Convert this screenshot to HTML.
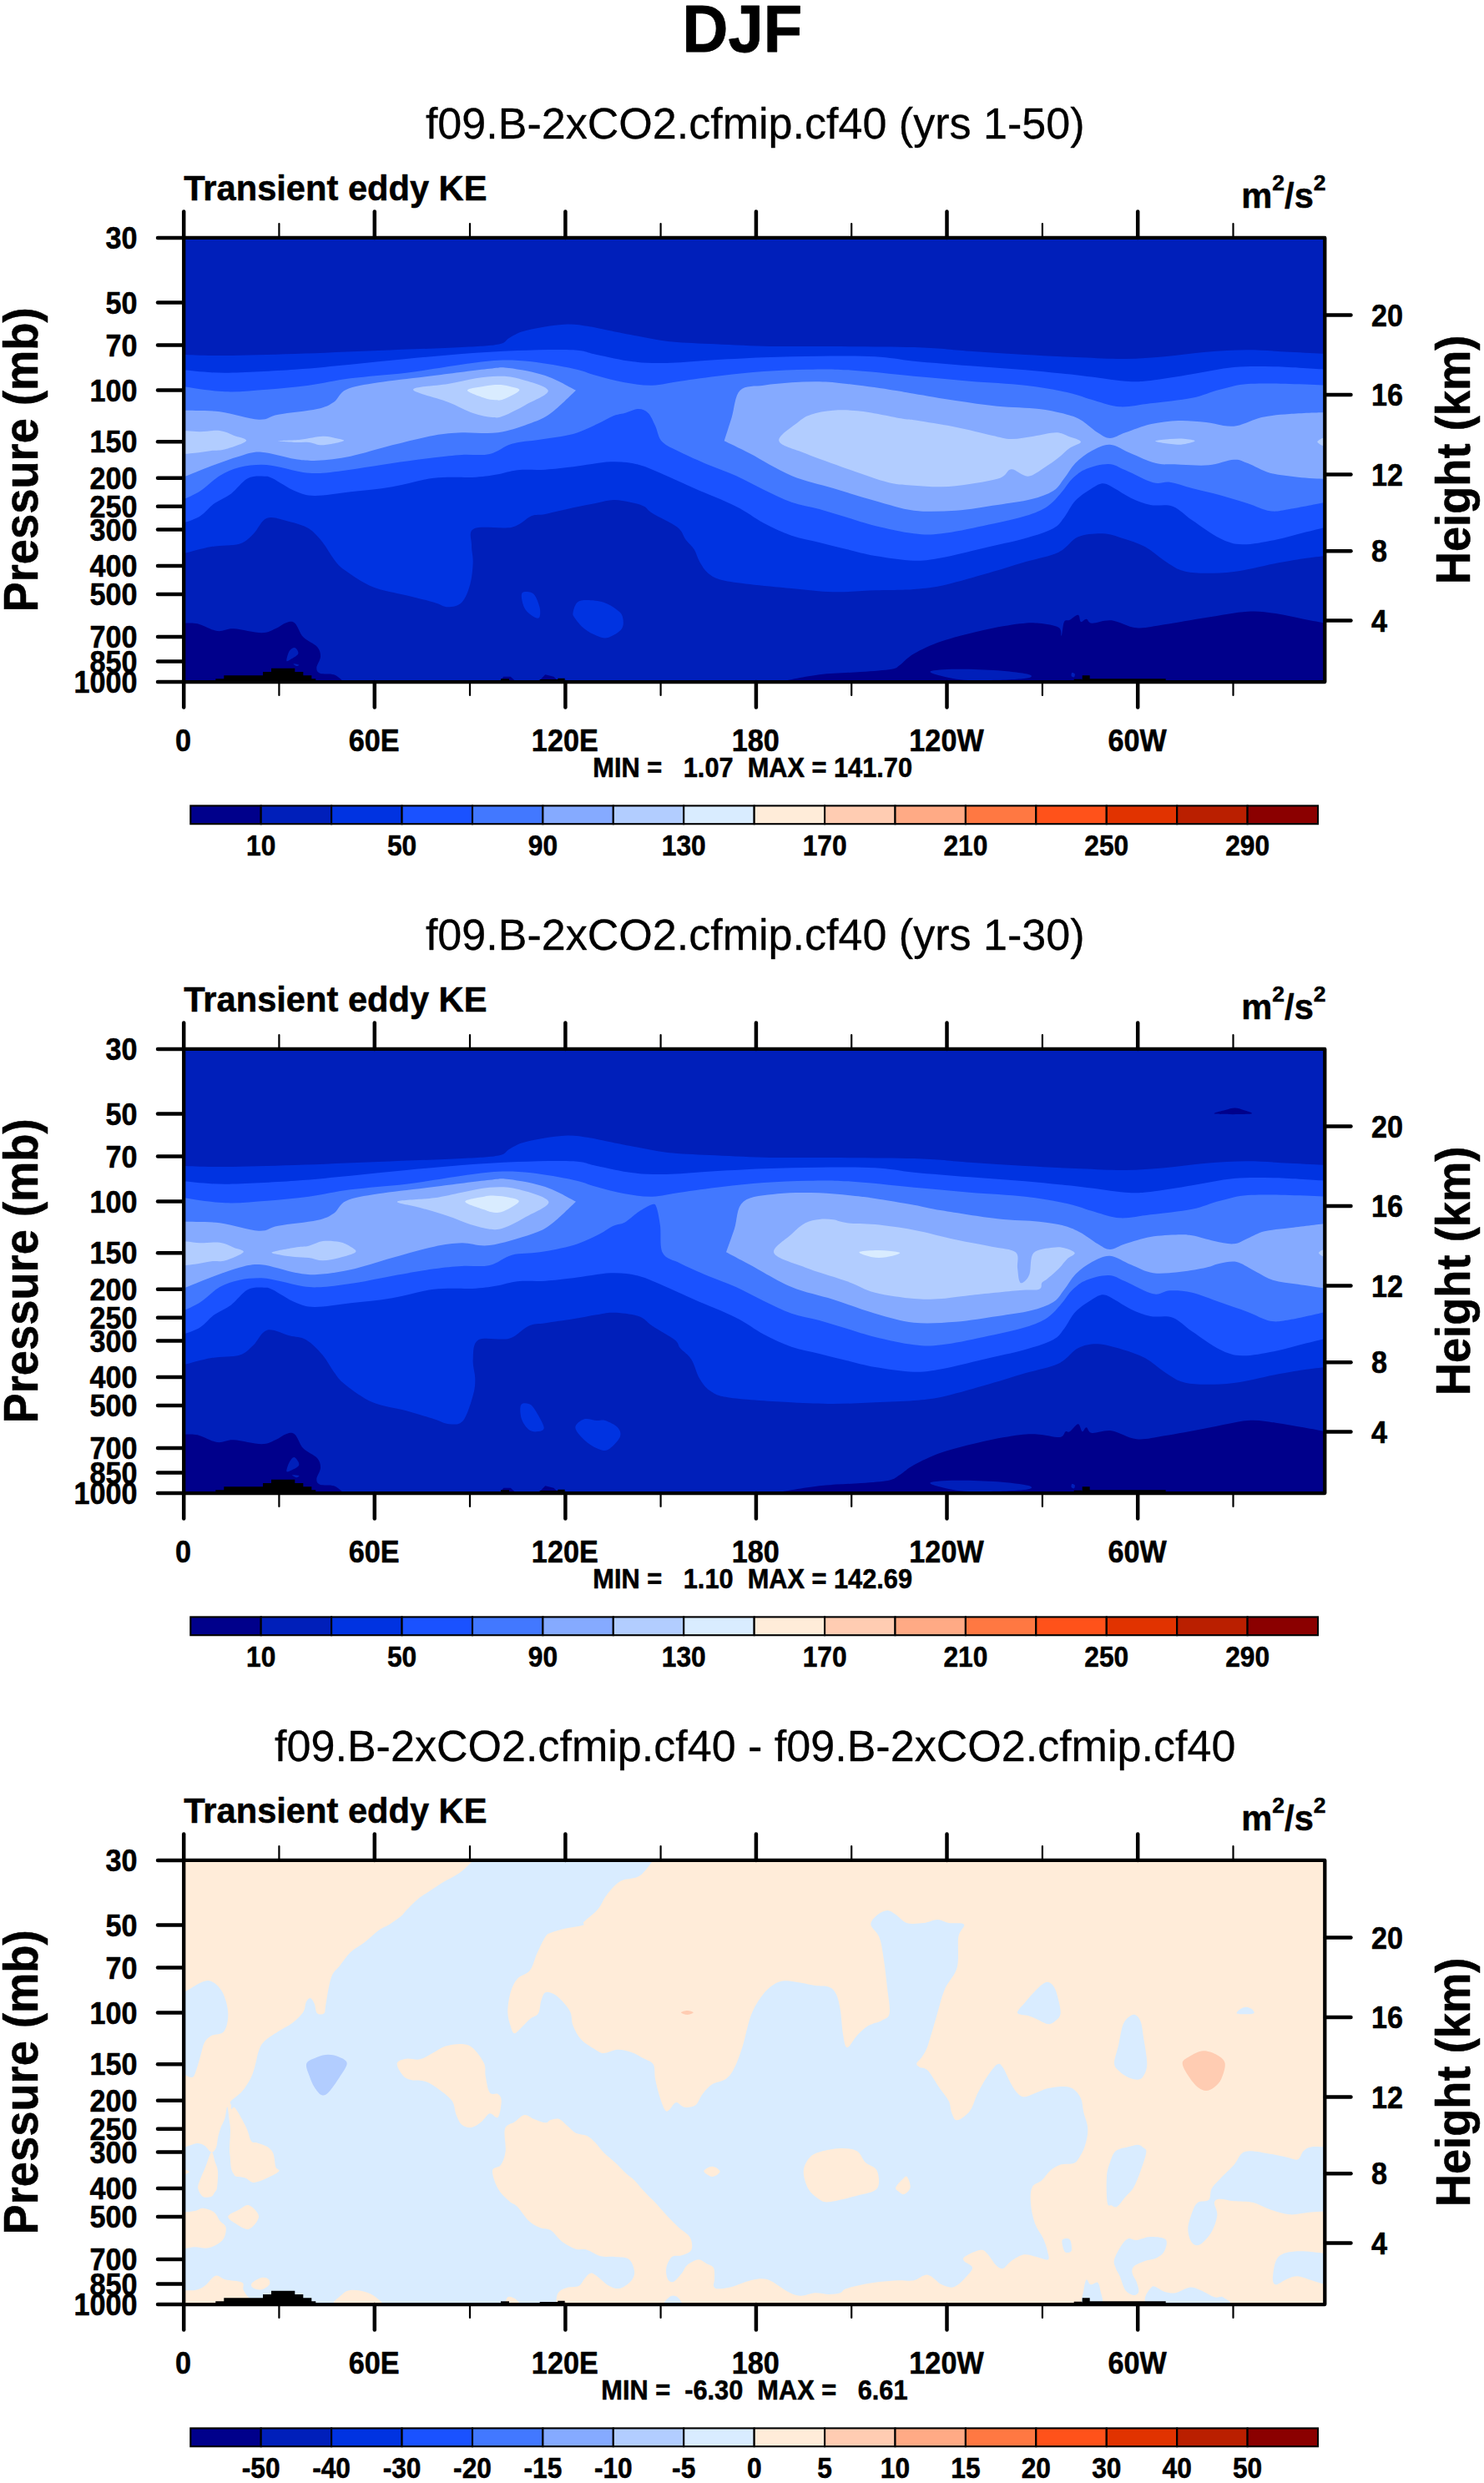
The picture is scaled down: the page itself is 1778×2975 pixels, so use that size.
<!DOCTYPE html><html><head><meta charset="utf-8"><title>DJF</title><style>
html,body{margin:0;padding:0;background:#fff}
svg{display:block}
text{font-family:"Liberation Sans",sans-serif;fill:#000;stroke:#000;stroke-width:0.5px;stroke-linejoin:round}
.tl{font-size:34.2px;font-weight:bold}
.cl{font-size:31.7px;font-weight:bold}
.mm{font-size:30.75px;font-weight:bold;white-space:pre}
.st{font-size:52.05px;stroke-width:0.3px}
.lt{font-size:41.65px;font-weight:bold}
.at{font-size:54.3px;font-weight:bold}
.tt{font-size:76px;font-weight:bold;stroke-width:0.8px}
.tk{stroke:#000;stroke-width:4.5;stroke-linecap:round}
.tm{stroke:#000;stroke-width:2.2;stroke-linecap:round}
</style></head><body>
<svg width="1778" height="2975" viewBox="0 0 1778 2975">
<defs>
<clipPath id="clip0"><rect x="220.2" y="284.9" width="1367.1" height="532.2"/></clipPath>
<clipPath id="clip1"><rect x="220.2" y="1256.9" width="1367.1" height="532.2"/></clipPath>
<clipPath id="clip2"><rect x="220.2" y="2228.9" width="1367.1" height="532.2"/></clipPath>
</defs>
<rect width="1778" height="2975" fill="#fff"/>
<text transform="translate(889.3 61.7) scale(1 1.045)" class="tt" text-anchor="middle">DJF</text>
<g>
<g clip-path="url(#clip0)">
<rect x="218" y="283" width="1372" height="536" fill="#001FBA"/>
<path d="M220 425C228.3 425.2 247.8 426.2 270 426C292.2 425.8 322.8 425 353.3 424C383.9 423 420 421.3 453.3 420C486.7 418.7 529.3 417.2 553.3 416C577.4 414.8 588.1 414.3 597.5 412.5C606.9 410.7 605.4 407.5 610 405C614.6 402.5 618.3 399.7 625 397.5C631.7 395.3 640.8 393.5 650 392C659.2 390.5 670.8 388.7 680 388.5C689.2 388.3 697.5 389.9 705 391C712.5 392.1 715.8 393.2 725 395C734.2 396.8 747.5 399.7 760 402C772.5 404.3 785 407.3 800 409C815 410.7 830.8 411.1 850 412C869.2 412.9 893.1 414.2 915 414.7C936.9 415.2 951.7 414.8 981.7 415C1011.7 415.2 1065 415.1 1095 416C1125 416.9 1139.4 419.2 1161.7 420.7C1183.9 422.2 1206.1 423.7 1228.3 425C1250.6 426.3 1275 427.5 1295 428.3C1315 429.2 1331.7 430.2 1348.3 430C1365 429.8 1378.9 428.7 1395 427.3C1411.1 425.9 1428.3 423 1445 421.7C1461.7 420.3 1478.3 419.3 1495 419.3C1511.7 419.3 1529.4 420.9 1545 421.7C1560.6 422.4 1581.1 423.6 1588.3 424L1588.3 666C1583.9 666.6 1571.7 667.8 1561.7 669.3C1551.7 670.8 1542.2 672.4 1528.3 675C1514.4 677.6 1493.3 683.1 1478.3 685C1463.3 686.9 1448.9 686.9 1438.3 686.7C1427.8 686.4 1422.2 685.8 1415 683.3C1407.8 680.8 1402.2 676.4 1395 671.7C1387.8 666.9 1380 659.4 1371.7 655C1363.3 650.6 1353.3 647.6 1345 645C1336.7 642.4 1330.6 639.6 1321.7 639.3C1312.8 639.1 1300.6 639.6 1291.7 643.3C1282.8 647.1 1278.9 656.7 1268.3 661.7C1257.8 666.7 1243.3 668.9 1228.3 673.3C1213.3 677.8 1195 683.6 1178.3 688.3C1161.7 693.1 1142.2 698.7 1128.3 701.7C1114.4 704.6 1102.8 705.2 1095 706C1087.2 706.8 1089.4 706.4 1081.7 706.7C1073.9 706.9 1062.2 706.9 1048.3 707.3C1034.4 707.8 1015 709.7 998.3 709.3C981.7 708.9 965 706.6 948.3 705C931.7 703.4 912.2 701.7 898.3 700C884.4 698.3 873.3 697.2 865 695C856.7 692.8 852.8 690.3 848.3 686.7C843.9 683.1 841.1 678.1 838.3 673.3C835.6 668.6 834.4 662.8 831.7 658.3C828.9 653.9 825 651.1 821.7 646.7C818.3 642.2 818.3 636.9 811.7 631.7C805 626.4 788.3 619.2 781.7 615C775 610.8 776.1 608.9 771.7 606.7C767.2 604.4 761.1 602.9 755 601.7C748.9 600.4 741.7 598.8 735 599C728.3 599.2 722.7 601.1 714.7 602.7C706.6 604.2 696.9 606.1 686.7 608.3C676.4 610.6 661.7 614.3 653.3 616C645 617.7 643.3 615.7 636.7 618.3C630 620.9 624.7 629.2 613.3 631.7C601.9 634.2 576.4 629.7 568.3 633.3C560.3 636.9 565.3 646.7 565 653.3C564.7 660 566.9 665.6 566.7 673.3C566.4 681.1 565.6 691.9 563.3 700C561.1 708.1 557.8 717.1 553.3 721.7C548.9 726.2 542.2 727.3 536.7 727.3C531.1 727.3 528.3 724 520 721.7C511.7 719.3 498.9 716.4 486.7 713.3C474.4 710.3 458.9 708.3 446.7 703.3C434.4 698.3 421.1 688.9 413.3 683.3C405.6 677.8 404.4 675.6 400 670C395.6 664.4 391.7 656.1 386.7 650C381.7 643.9 376.7 637.5 370 633.3C363.3 629.2 355 627.1 346.7 625C338.3 622.9 327.2 618.2 320 620.7C312.8 623.2 308.9 634.8 303.3 640C297.8 645.2 295 649.2 286.7 651.7C278.3 654.2 264.4 653.1 253.3 655C242.2 656.9 225.6 661.9 220 663.3Z" fill="#0033E1"/>
<path d="M220 443.3C228.3 443.9 247.8 446.8 270 446.7C292.2 446.6 328.3 444.3 353.3 442.7C378.3 441 397.8 438.8 420 436.7C442.2 434.6 464.4 432.1 486.7 430C508.9 427.9 531.1 425.7 553.3 424C575.6 422.3 597.8 420.8 620 420C642.2 419.2 670.8 418.5 686.7 419.3C702.5 420.2 703.1 422.7 715 425C726.9 427.3 744.4 431.7 758.3 433.3C772.2 435 783.3 435.3 798.3 435C813.3 434.7 828.9 432.8 848.3 431.7C867.8 430.6 892.8 429.2 915 428.3C937.2 427.5 959.4 426.8 981.7 426.7C1003.9 426.5 1029.4 426.3 1048.3 427.3C1067.2 428.3 1076.1 430.8 1095 432.7C1113.9 434.5 1139.4 436.6 1161.7 438.3C1183.9 440.1 1206.1 441.4 1228.3 443.3C1250.6 445.3 1275 447.8 1295 450C1315 452.2 1334.4 455.7 1348.3 456.7C1362.2 457.7 1365 457.4 1378.3 456C1391.7 454.6 1411.7 451 1428.3 448.3C1445 445.7 1461.7 441.5 1478.3 440C1495 438.5 1510 438.9 1528.3 439.3C1546.7 439.8 1578.3 442.1 1588.3 442.7L1588.3 631.7C1583.9 632.8 1571.7 635.8 1561.7 638.3C1551.7 640.8 1540.6 644.3 1528.3 646.7C1516.1 649 1499.4 652.6 1488.3 652.3C1477.2 652.1 1471.7 649.8 1461.7 645C1451.7 640.2 1437.8 629.7 1428.3 623.3C1418.9 616.9 1413.3 609.7 1405 606.7C1396.7 603.6 1386.7 606.7 1378.3 605C1370 603.3 1362.2 600 1355 596.7C1347.8 593.3 1340.6 587.9 1335 585C1329.4 582.1 1326.1 579.3 1321.7 579.3C1317.2 579.3 1313.9 581.6 1308.3 585C1302.8 588.4 1293.9 594.2 1288.3 600C1282.8 605.8 1279.4 614.4 1275 620C1270.6 625.6 1269.4 629.2 1261.7 633.3C1253.9 637.5 1242.2 641.1 1228.3 645C1214.4 648.9 1195 652.8 1178.3 656.7C1161.7 660.6 1142.2 665.8 1128.3 668.3C1114.4 670.8 1108.3 672.1 1095 671.7C1081.7 671.3 1061.7 668.2 1048.3 666C1035 663.8 1026.1 661 1015 658.3C1003.9 655.7 992.8 652.8 981.7 650C970.6 647.2 959.4 645.6 948.3 641.7C937.2 637.8 926.1 632.5 915 626.7C903.9 620.8 895.6 613.6 881.7 606.7C867.8 599.7 845.6 591.1 831.7 585C817.8 578.9 809.4 574.7 798.3 570C787.2 565.3 776.1 559.4 765 556.7C753.9 553.9 744.7 552.9 731.7 553.3C718.6 553.8 699.7 557.8 686.7 559.3C673.6 560.9 664.4 562 653.3 562.7C642.2 563.3 629.4 562.4 620 563.3C610.6 564.3 605 566.9 596.7 568.3C588.3 569.7 582.8 570.9 570 571.7C557.2 572.4 536.7 570.7 520 572.7C503.3 574.6 486.7 580.6 470 583.3C453.3 586.1 435.6 587.6 420 589.3C404.4 591.1 387.8 594.2 376.7 594C365.6 593.8 361.7 591.8 353.3 588.3C345 584.9 332.8 576.3 326.7 573.3C320.6 570.4 321.7 570.7 316.7 570.7C311.7 570.7 303.3 569.8 296.7 573.3C290 576.8 283.3 586.7 276.7 591.7C270 596.7 262.8 598.9 256.7 603.3C250.6 607.8 246.1 614.4 240 618.3C233.9 622.2 223.3 625.3 220 626.7Z" fill="#1A52FF"/>
<path d="M220 463.3C228.3 464.3 253.3 468.8 270 469.3C286.7 469.9 303.3 467.9 320 466.7C336.7 465.4 353.3 463.9 370 461.7C386.7 459.4 400.6 455.8 420 453.3C439.4 450.8 464.4 449.4 486.7 446.7C508.9 443.9 535 439.2 553.3 436.7C571.7 434.2 582.8 432.2 596.7 431.7C610.6 431.1 621.7 431.7 636.7 433.3C651.7 435 673.7 438.9 686.7 441.7C699.7 444.4 704.4 447.2 714.7 450C724.9 452.8 737.2 456.4 748.3 458.3C759.5 460.3 770.6 461.9 781.7 461.7C792.8 461.4 801.1 458.6 815 456.7C828.9 454.7 848.3 451.9 865 450C881.7 448.1 897.8 446.2 915 445C932.2 443.8 951.7 442.9 968.3 442.7C985 442.4 993.9 442 1015 443.3C1036.1 444.7 1070.6 448.4 1095 450.7C1119.4 452.9 1139.4 454.8 1161.7 456.7C1183.9 458.5 1208.9 459.4 1228.3 461.7C1247.8 463.9 1264.4 466.9 1278.3 470C1292.2 473.1 1301.1 477.1 1311.7 480C1322.2 482.9 1330.6 486.8 1341.7 487.3C1352.8 487.9 1363.9 485.1 1378.3 483.3C1392.8 481.6 1414.4 479.4 1428.3 476.7C1442.2 473.9 1450.6 469.4 1461.7 466.7C1472.8 463.9 1481.1 461.1 1495 460C1508.9 458.9 1529.4 459.7 1545 460C1560.6 460.3 1581.1 461.4 1588.3 461.7L1588.3 601.7C1581.1 603.1 1556.1 608.2 1545 610C1533.9 611.8 1530 613.4 1521.7 612.3C1513.3 611.2 1505 606.5 1495 603.3C1485 600.2 1472.8 596.4 1461.7 593.3C1450.6 590.3 1438.3 587.6 1428.3 585C1418.3 582.4 1409.4 578.8 1401.7 577.7C1393.9 576.6 1390.6 580.7 1381.7 578.3C1372.8 575.9 1357.2 567.1 1348.3 563.3C1339.4 559.6 1336.1 556.3 1328.3 556C1320.6 555.7 1308.9 558.8 1301.7 561.7C1294.4 564.6 1290 568.6 1285 573.3C1280 578.1 1276.7 584.4 1271.7 590C1266.7 595.6 1262.2 601.9 1255 606.7C1247.8 611.4 1241.1 614.4 1228.3 618.3C1215.6 622.2 1195 626.5 1178.3 630C1161.7 633.5 1142.2 637.8 1128.3 639.3C1114.4 640.9 1108.3 640.9 1095 639.3C1081.7 637.8 1061.7 633.2 1048.3 630C1035 626.8 1026.1 623.3 1015 620C1003.9 616.7 992.8 613.1 981.7 610C970.6 606.9 959.4 605.6 948.3 601.7C937.2 597.8 926.1 591.9 915 586.7C903.9 581.4 892.8 575 881.7 570C870.6 565 859.4 561.4 848.3 556.7C837.2 551.9 824.2 546.2 815 541.7C805.8 537.1 798.3 534.6 793.3 529.3C788.3 524.1 787.8 515.7 785 510C782.2 504.3 780 498.3 776.7 495C773.3 491.7 769.7 490 765 490C760.3 490 753.3 493.6 748.3 495C743.3 496.4 740.6 496.1 735 498.3C729.4 500.6 723.1 504.7 715 508.3C706.9 511.9 698.1 516.9 686.7 520C675.3 523.1 658.9 524.7 646.7 526.7C634.4 528.6 623.3 528.8 613.3 531.7C603.3 534.6 596.7 541.8 586.7 544C576.7 546.2 564.4 544.3 553.3 545C542.2 545.7 533.9 546.7 520 548.3C506.1 550 485.6 552.8 470 555C454.4 557.2 440.6 559.7 426.7 561.7C412.8 563.6 397.2 565.9 386.7 566.7C376.1 567.4 371.7 567.1 363.3 566C355 564.9 345 561.6 336.7 560C328.3 558.4 321.7 556.7 313.3 556.7C305 556.7 295 557.8 286.7 560C278.3 562.2 271.1 565.3 263.3 570C255.6 574.7 247.2 583.6 240 588.3C232.8 593.1 223.3 596.7 220 598.3Z" fill="#4278FF"/>
<path d="M220 491.7C227.2 491.9 248.3 491.5 263.3 493.3C278.3 495.2 298.3 502.1 310 502.7C321.7 503.2 321.7 498.8 333.3 496.7C345 494.6 368.9 492.5 380 490C391.1 487.5 394.2 485.6 400 481.7C405.8 477.8 406.1 470.6 415 466.7C423.9 462.8 435.8 461.1 453.3 458.3C470.8 455.6 497.8 452.8 520 450C542.2 447.2 571.7 443.2 586.7 441.7C601.7 440.2 598.9 439.6 610 441C621.1 442.4 640 445.6 653.3 450C666.7 454.4 683.9 464.7 690 467.7L690 467.7C685 472.2 668.9 488.5 660 495C651.1 501.5 647.2 502.8 636.7 506.7C626.1 510.6 610.6 516.4 596.7 518.3C582.8 520.3 566.1 517.8 553.3 518.3C540.6 518.9 533.9 519.2 520 521.7C506.1 524.2 486.7 529.2 470 533.3C453.3 537.5 435 543.6 420 546.7C405 549.7 391.1 551.1 380 551.7C368.9 552.2 364.4 551.7 353.3 550C342.2 548.3 324.4 542.2 313.3 541.7C302.2 541.1 296.7 543.9 286.7 546.7C276.7 549.4 264.4 554.2 253.3 558.3C242.2 562.5 225.6 569.4 220 571.7Z" fill="#85AAFF"/>
<path d="M867.7 528.3C869.2 523.6 873.5 510.1 876.7 500C879.8 489.9 880.3 474.1 886.7 467.7C893.1 461.3 904.7 463.2 915 461.7C925.3 460.1 937.2 459.1 948.3 458.3C959.4 457.6 970.6 457.1 981.7 457.3C992.8 457.6 1001.1 458.4 1015 460C1028.9 461.6 1051.7 464.7 1065 466.7C1078.3 468.6 1081.7 469.4 1095 471.7C1108.3 473.9 1128.3 477.5 1145 480C1161.7 482.5 1178.3 485 1195 486.7C1211.7 488.3 1231.1 488.3 1245 490C1258.9 491.7 1270 494.4 1278.3 496.7C1286.7 498.9 1288.9 499.7 1295 503.3C1301.1 506.9 1309.2 514.7 1315 518.3C1320.8 521.9 1324.4 525 1330 525C1335.6 525 1340.3 521.1 1348.3 518.3C1356.4 515.6 1367.8 510.7 1378.3 508.3C1388.9 505.9 1400.6 504.4 1411.7 504C1422.8 503.6 1433.9 504.9 1445 506C1456.1 507.1 1467.2 511.7 1478.3 510.7C1489.4 509.7 1500.6 502.4 1511.7 500C1522.8 497.6 1532.2 497 1545 496C1557.8 495 1581.1 494.3 1588.3 494L1588.3 574C1582.8 573.6 1566.1 572.9 1555 571.7C1543.9 570.4 1531.7 569.4 1521.7 566.7C1511.7 563.9 1502.2 557.7 1495 555C1487.8 552.3 1486.1 550.3 1478.3 550.7C1470.6 551.1 1458.9 556.3 1448.3 557.3C1437.8 558.3 1425.6 557.1 1415 556.7C1404.4 556.3 1395 557.2 1385 555C1375 552.8 1364.2 547.1 1355 543.3C1345.8 539.6 1337.8 533.2 1330 532.7C1322.2 532.1 1315.3 536.3 1308.3 540C1301.4 543.7 1293.9 549.4 1288.3 555C1282.8 560.6 1279.4 567.8 1275 573.3C1270.6 578.9 1268.3 584.2 1261.7 588.3C1255 592.5 1246.1 595.6 1235 598.3C1223.9 601.1 1210 602.8 1195 605C1180 607.2 1161.7 610.6 1145 611.7C1128.3 612.8 1111.1 613.6 1095 611.7C1078.9 609.7 1064.4 604.4 1048.3 600C1032.2 595.6 1015 590 998.3 585C981.7 580 965 576.9 948.3 570C931.7 563.1 911.8 550.3 898.3 543.3C884.9 536.4 872.8 530.8 867.7 528.3Z" fill="#85AAFF"/>
<path d="M216.7 518.3C220.6 514.3 232.2 517.7 240 517.3C247.8 516.9 256.7 515.3 263.3 516C270 516.7 274.7 519.6 280 521.7C285.3 523.7 296.7 525.6 295 528.3C293.3 531.1 276.9 536.4 270 538.3C263.1 540.3 259.4 539.3 253.3 540C247.2 540.7 239.4 542.4 233.3 542.7C227.2 542.9 219.4 545.7 216.7 541.7C213.9 537.6 212.8 522.4 216.7 518.3Z" fill="#B2CDFF"/>
<path d="M333.3 528.3C334.4 527.8 351.1 527.6 360 526.7C368.9 525.7 379.7 522.9 386.7 522.7C393.6 522.4 397.5 524.1 401.7 525C405.8 525.9 414.2 526.9 411.7 528.3C409.2 529.7 393.6 533.1 386.7 533.3C379.7 533.6 375.6 530.6 370 530C364.4 529.4 359.4 530.3 353.3 530C347.2 529.7 332.2 528.9 333.3 528.3Z" fill="#B2CDFF"/>
<path d="M495 466.7C495 463.1 524.2 462.2 536.7 460C549.2 457.8 560 454.9 570 453.3C580 451.8 588.3 450.7 596.7 450.7C605 450.7 610 450.5 620 453.3C630 456.2 655 462.4 656.7 467.7C658.3 472.9 638.9 479.9 630 485C621.1 490.1 610 495.8 603.3 498.3C596.7 500.8 596.1 500.6 590 500C583.9 499.4 575.6 498.1 566.7 495C557.8 491.9 548.6 486.4 536.7 481.7C524.7 476.9 495 470.3 495 466.7Z" fill="#B2CDFF"/>
<path d="M933.3 528.3C931.7 522.2 948.6 511.9 955 506.7C961.4 501.4 964.4 499.2 971.7 496.7C978.9 494.2 988.3 492.3 998.3 491.7C1008.3 491 1017.8 491 1031.7 492.7C1045.6 494.3 1071.1 499.9 1081.7 501.7C1092.2 503.4 1084.4 501.7 1095 503.3C1105.6 505 1129.4 508.6 1145 511.7C1160.6 514.7 1177.2 519.3 1188.3 521.7C1199.4 524.1 1203.3 525.8 1211.7 526C1220 526.2 1229.4 523.9 1238.3 522.7C1247.2 521.4 1258.1 518.3 1265 518.3C1271.9 518.3 1275 520.8 1280 522.7C1285 524.5 1294.7 527 1295 529.3C1295.3 531.7 1286.1 533.5 1281.7 536.7C1277.2 539.8 1273.3 544.4 1268.3 548.3C1263.3 552.2 1257.8 556.3 1251.7 560C1245.6 563.7 1238.3 570.3 1231.7 570.7C1225 571.1 1217.2 562 1211.7 562.3C1206.1 562.7 1206.7 569.7 1198.3 572.7C1190 575.6 1173.3 578.2 1161.7 580C1150 581.8 1139.4 583.1 1128.3 583.3C1117.2 583.6 1105.6 582.5 1095 581.7C1084.4 580.8 1078.3 581.7 1065 578.3C1051.7 575 1031.7 567.5 1015 561.7C998.3 555.8 978.6 548.9 965 543.3C951.4 537.8 935 534.4 933.3 528.3Z" fill="#B2CDFF"/>
<path d="M1384.3 528.3C1385.4 527.5 1396 526.4 1401.7 526C1407.3 525.6 1413.3 525.3 1418.3 525.7C1423.3 526.1 1432.2 527.2 1431.7 528.3C1431.1 529.5 1421.1 532.2 1415 532.7C1408.9 533.1 1400.1 531.7 1395 531C1389.9 530.3 1383.2 529.2 1384.3 528.3Z" fill="#B2CDFF"/>
<path d="M1588.3 524C1586.7 523.1 1578.3 527.6 1578.3 529.3C1578.3 531.1 1586.7 535.6 1588.3 534.7C1590 533.8 1590 524.9 1588.3 524Z" fill="#B2CDFF"/>
<path d="M560 467.7C560 465.3 573.9 463.8 580 462.7C586.1 461.6 591.7 461 596.7 461C601.7 461 605.7 461.6 610 462.7C614.3 463.8 623.4 465.1 622.3 467.7C621.2 470.3 608.2 476.4 603.3 478.3C598.5 480.3 597.2 479.6 593.3 479.3C589.4 479.1 585.6 478.6 580 476.7C574.4 474.7 560 470 560 467.7Z" fill="#D9ECFF"/>
<path d="M625 711.7C625.8 708.5 630.7 709.1 633.3 709.3C635.9 709.6 638.4 710.2 640.7 713.3C642.9 716.5 645.8 723.9 646.7 728.3C647.6 732.8 647.4 738.3 646 740C644.6 741.7 641.3 740.3 638.3 738.3C635.4 736.4 630.6 732.8 628.3 728.3C626.1 723.9 624.2 714.8 625 711.7Z" fill="#0033E1"/>
<path d="M686.7 733.3C687.2 730.3 688.9 724.1 691.7 721.7C694.4 719.3 698.1 719 703.3 719C708.6 719 717.5 719.8 723.3 721.7C729.2 723.5 734.6 727.2 738.3 730C742.1 732.8 744.6 734.4 745.7 738.3C746.8 742.2 747.9 749.1 745 753.3C742.1 757.6 733.3 762.6 728.3 764C723.3 765.4 719.7 763.4 715 761.7C710.3 759.9 704.4 756.9 700 753.3C695.6 749.7 690.6 743.3 688.3 740C686.1 736.7 686.1 736.4 686.7 733.3Z" fill="#0033E1"/>
<path d="M220 746.7C222.8 746.8 230 745.8 236.7 747.3C243.3 748.9 252.8 755 260 756C267.2 757 271.1 752.9 280 753.3C288.9 753.7 305 758.3 313.3 758.3C321.7 758.3 325 755.4 330 753.3C335 751.3 339.4 747.1 343.3 746C347.2 744.9 350 743.8 353.3 746.7C356.7 749.6 358.9 758.6 363.3 763.3C367.8 768.1 376.6 771.1 380 775C383.4 778.9 384.1 782.5 384 786.7C383.9 790.8 379.4 796.7 379.3 800C379.2 803.3 379.9 805.3 383.3 806.7C386.8 808.1 395.3 806.7 400 808.3C404.7 810 409.7 815.3 411.7 816.7L411.7 818 L220 818 Z" fill="#00008B"/>
<path d="M935 816.7C942.8 815.3 965.6 810.3 981.7 808.3C997.8 806.4 1017.2 806.1 1031.7 805C1046.1 803.9 1060.6 803.1 1068.3 801.7C1076.1 800.3 1073.9 799.7 1078.3 796.7C1082.8 793.6 1086.7 788.1 1095 783.3C1103.3 778.6 1114.4 773.1 1128.3 768.3C1142.2 763.6 1162.8 758.5 1178.3 755C1193.9 751.5 1210.6 748.7 1221.7 747.3C1232.8 745.9 1237.2 745.9 1245 746.7C1252.8 747.4 1263.9 749.2 1268.3 751.7C1272.8 754.2 1270.6 762.8 1271.7 761.7C1272.8 760.6 1273.3 748.2 1275 745C1276.7 741.8 1278.9 744.1 1281.7 742.7C1284.4 741.3 1289.4 736.3 1291.7 736.7C1293.9 737.1 1293.3 744.2 1295 745C1296.7 745.8 1299.4 741.4 1301.7 741.7C1303.9 741.9 1303.3 746.4 1308.3 746.7C1313.3 746.9 1322.8 742.4 1331.7 743.3C1340.6 744.3 1351.1 751.5 1361.7 752.3C1372.2 753.2 1381.1 750.4 1395 748.3C1408.9 746.3 1428.3 742.6 1445 740C1461.7 737.4 1481.1 733.5 1495 732.7C1508.9 731.8 1517.2 733.5 1528.3 735C1539.4 736.5 1551.7 739.7 1561.7 741.7C1571.7 743.6 1583.9 745.8 1588.3 746.7L1588.3 818 L935 818 Z" fill="#00008B"/>
<path d="M598.3 816.7L603.3 810.7L611.7 810.7L618.3 816.7Z" fill="#00008B"/>
<path d="M645 816.7L653.3 808.3L663.3 810.7L670 816.7Z" fill="#00008B"/>
<path d="M1115 804.3C1117.8 802.9 1131.7 801.8 1145 801.7C1158.3 801.5 1180.3 802.2 1195 803.3C1209.7 804.4 1228.3 806.7 1233.3 808.3C1238.3 810 1236.9 812.2 1225 813.3C1213.1 814.4 1177.8 815.6 1161.7 815C1145.6 814.4 1136.1 811.8 1128.3 810C1120.6 808.2 1112.2 805.7 1115 804.3Z" fill="#001FBA"/>
<path d="M343.3 791.7C343.1 790 345 782.6 346.7 780C348.3 777.4 351.6 775.4 353.3 776C355.1 776.6 358.2 781 357.3 783.3C356.5 785.7 350.7 788.6 348.3 790C346 791.4 343.6 793.3 343.3 791.7Z" fill="#001FBA"/>
<path d="M351.7 795.3C352.2 795.1 357.8 796.2 358.3 796.7C358.9 797.1 356.1 798.2 355 798C353.9 797.8 351.1 795.6 351.7 795.3Z" fill="#001FBA"/>
<path d="M1284.3 806C1285 805.6 1287.2 806.4 1287.7 807.3C1288.1 808.2 1287.7 810.9 1287 811.3C1286.3 811.8 1284.1 810.9 1283.7 810C1283.2 809.1 1283.7 806.4 1284.3 806Z" fill="#001FBA"/>
<path d="M258.3 816.7L258.3 813.3L268.3 813.3L268.3 809.3L315 809.3L315 805L325 805L325 800.7L353.3 800.7L353.3 805L363.3 805L363.3 809.3L373.3 809.3L373.3 813.3L378.3 813.3L378.3 816.7Z" fill="#000"/>
<path d="M600 816.7L600 813.3L610 813.3L610 816.7Z" fill="#000"/>
<path d="M646.7 816.7L646.7 814L668.3 814L668.3 812.7L676.7 812.7L676.7 816.7Z" fill="#000"/>
<path d="M1296.7 816.7L1296.7 809.3L1305.7 809.3L1305.7 813.3L1396.7 813.3L1396.7 816.7Z" fill="#000"/>
<path d="M1286.7 816.7L1286.7 813.7L1296.7 813.7L1296.7 816.7Z" fill="#000"/>
</g>
<rect x="220.2" y="284.9" width="1367.1" height="532.2" fill="none" stroke="#000" stroke-width="4.3" stroke-linejoin="round"/>
<line x1="189" x2="219" y1="284.9" y2="284.9" class="tk"/>
<text transform="translate(164.5 298.1) scale(1 1.1)" class="tl" text-anchor="end">30</text>
<line x1="189" x2="219" y1="362.4" y2="362.4" class="tk"/>
<text transform="translate(164.5 375.6) scale(1 1.1)" class="tl" text-anchor="end">50</text>
<line x1="189" x2="219" y1="413.5" y2="413.5" class="tk"/>
<text transform="translate(164.5 426.7) scale(1 1.1)" class="tl" text-anchor="end">70</text>
<line x1="189" x2="219" y1="467.6" y2="467.6" class="tk"/>
<text transform="translate(164.5 480.8) scale(1 1.1)" class="tl" text-anchor="end">100</text>
<line x1="189" x2="219" y1="529.2" y2="529.2" class="tk"/>
<text transform="translate(164.5 542.4) scale(1 1.1)" class="tl" text-anchor="end">150</text>
<line x1="189" x2="219" y1="572.8" y2="572.8" class="tk"/>
<text transform="translate(164.5 586) scale(1 1.1)" class="tl" text-anchor="end">200</text>
<line x1="189" x2="219" y1="606.7" y2="606.7" class="tk"/>
<text transform="translate(164.5 619.9) scale(1 1.1)" class="tl" text-anchor="end">250</text>
<line x1="189" x2="219" y1="634.4" y2="634.4" class="tk"/>
<text transform="translate(164.5 647.6) scale(1 1.1)" class="tl" text-anchor="end">300</text>
<line x1="189" x2="219" y1="678" y2="678" class="tk"/>
<text transform="translate(164.5 691.2) scale(1 1.1)" class="tl" text-anchor="end">400</text>
<line x1="189" x2="219" y1="711.9" y2="711.9" class="tk"/>
<text transform="translate(164.5 725.1) scale(1 1.1)" class="tl" text-anchor="end">500</text>
<line x1="189" x2="219" y1="763" y2="763" class="tk"/>
<text transform="translate(164.5 776.2) scale(1 1.1)" class="tl" text-anchor="end">700</text>
<line x1="189" x2="219" y1="792.4" y2="792.4" class="tk"/>
<text transform="translate(164.5 805.6) scale(1 1.1)" class="tl" text-anchor="end">850</text>
<line x1="189" x2="219" y1="817.1" y2="817.1" class="tk"/>
<text transform="translate(164.5 830.3) scale(1 1.1)" class="tl" text-anchor="end">1000</text>
<line x1="1588" x2="1618.5" y1="377.4" y2="377.4" class="tk"/>
<text transform="translate(1643 390.6) scale(1 1.1)" class="tl">20</text>
<line x1="1588" x2="1618.5" y1="473" y2="473" class="tk"/>
<text transform="translate(1643 486.2) scale(1 1.1)" class="tl">16</text>
<line x1="1588" x2="1618.5" y1="568.4" y2="568.4" class="tk"/>
<text transform="translate(1643 581.6) scale(1 1.1)" class="tl">12</text>
<line x1="1588" x2="1618.5" y1="660.2" y2="660.2" class="tk"/>
<text transform="translate(1643 673.4) scale(1 1.1)" class="tl">8</text>
<line x1="1588" x2="1618.5" y1="743.6" y2="743.6" class="tk"/>
<text transform="translate(1643 756.8) scale(1 1.1)" class="tl">4</text>
<line x1="220.2" x2="220.2" y1="253.5" y2="284.9" class="tk"/>
<line x1="220.2" x2="220.2" y1="817.1" y2="847.4" class="tk"/>
<line x1="334.4" x2="334.4" y1="268" y2="284.9" class="tm"/>
<line x1="334.4" x2="334.4" y1="817.1" y2="833" class="tm"/>
<line x1="448.8" x2="448.8" y1="253.5" y2="284.9" class="tk"/>
<line x1="448.8" x2="448.8" y1="817.1" y2="847.4" class="tk"/>
<line x1="563" x2="563" y1="268" y2="284.9" class="tm"/>
<line x1="563" x2="563" y1="817.1" y2="833" class="tm"/>
<line x1="677.4" x2="677.4" y1="253.5" y2="284.9" class="tk"/>
<line x1="677.4" x2="677.4" y1="817.1" y2="847.4" class="tk"/>
<line x1="791.6" x2="791.6" y1="268" y2="284.9" class="tm"/>
<line x1="791.6" x2="791.6" y1="817.1" y2="833" class="tm"/>
<line x1="905.9" x2="905.9" y1="253.5" y2="284.9" class="tk"/>
<line x1="905.9" x2="905.9" y1="817.1" y2="847.4" class="tk"/>
<line x1="1020.2" x2="1020.2" y1="268" y2="284.9" class="tm"/>
<line x1="1020.2" x2="1020.2" y1="817.1" y2="833" class="tm"/>
<line x1="1134.5" x2="1134.5" y1="253.5" y2="284.9" class="tk"/>
<line x1="1134.5" x2="1134.5" y1="817.1" y2="847.4" class="tk"/>
<line x1="1248.9" x2="1248.9" y1="268" y2="284.9" class="tm"/>
<line x1="1248.9" x2="1248.9" y1="817.1" y2="833" class="tm"/>
<line x1="1363.2" x2="1363.2" y1="253.5" y2="284.9" class="tk"/>
<line x1="1363.2" x2="1363.2" y1="817.1" y2="847.4" class="tk"/>
<line x1="1477.5" x2="1477.5" y1="268" y2="284.9" class="tm"/>
<line x1="1477.5" x2="1477.5" y1="817.1" y2="833" class="tm"/>
<text transform="translate(219.6 900.2) scale(1 1.1)" class="tl" text-anchor="middle">0</text>
<text transform="translate(448.1 900.2) scale(1 1.1)" class="tl" text-anchor="middle">60E</text>
<text transform="translate(676.8 900.2) scale(1 1.1)" class="tl" text-anchor="middle">120E</text>
<text transform="translate(905.3 900.2) scale(1 1.1)" class="tl" text-anchor="middle">180</text>
<text transform="translate(1134 900.2) scale(1 1.1)" class="tl" text-anchor="middle">120W</text>
<text transform="translate(1362.6 900.2) scale(1 1.1)" class="tl" text-anchor="middle">60W</text>
<text transform="translate(904.7 165.8)" class="st" text-anchor="middle">f09.B-2xCO2.cfmip.cf40 (yrs 1-50)</text>
<text transform="translate(220.2 240) scale(1 1.03)" class="lt">Transient eddy KE</text>
<text x="1588.6" y="248.6" class="lt" text-anchor="end">m<tspan dy="-20.6" font-size="26.5">2</tspan><tspan dy="20.6">/s</tspan><tspan dy="-20.6" font-size="26.5">2</tspan></text>
<text transform="translate(44.6 551) rotate(-90) scale(1 1.068)" class="at" text-anchor="middle">Pressure (mb)</text>
<text transform="translate(1761 551) rotate(-90) scale(1 1.068)" class="at" text-anchor="middle">Height (km)</text>
<text transform="translate(710.3 931.4) scale(1 1.066)" class="mm" xml:space="preserve">MIN =   1.07  MAX = 141.70</text>
<rect x="228.3" y="965.4" width="84.4" height="21.8" fill="#00008B" stroke="#000" stroke-width="2.1"/>
<rect x="312.7" y="965.4" width="84.4" height="21.8" fill="#001FBA" stroke="#000" stroke-width="2.1"/>
<rect x="397.1" y="965.4" width="84.4" height="21.8" fill="#0033E1" stroke="#000" stroke-width="2.1"/>
<rect x="481.6" y="965.4" width="84.4" height="21.8" fill="#1A52FF" stroke="#000" stroke-width="2.1"/>
<rect x="566" y="965.4" width="84.4" height="21.8" fill="#4278FF" stroke="#000" stroke-width="2.1"/>
<rect x="650.4" y="965.4" width="84.4" height="21.8" fill="#85AAFF" stroke="#000" stroke-width="2.1"/>
<rect x="734.8" y="965.4" width="84.4" height="21.8" fill="#B2CDFF" stroke="#000" stroke-width="2.1"/>
<rect x="819.2" y="965.4" width="84.4" height="21.8" fill="#D9ECFF" stroke="#000" stroke-width="2.1"/>
<rect x="903.7" y="965.4" width="84.4" height="21.8" fill="#FFECD9" stroke="#000" stroke-width="2.1"/>
<rect x="988.1" y="965.4" width="84.4" height="21.8" fill="#FFCCB2" stroke="#000" stroke-width="2.1"/>
<rect x="1072.5" y="965.4" width="84.4" height="21.8" fill="#FFAA85" stroke="#000" stroke-width="2.1"/>
<rect x="1156.9" y="965.4" width="84.4" height="21.8" fill="#FF7842" stroke="#000" stroke-width="2.1"/>
<rect x="1241.3" y="965.4" width="84.4" height="21.8" fill="#FF521A" stroke="#000" stroke-width="2.1"/>
<rect x="1325.8" y="965.4" width="84.4" height="21.8" fill="#E13300" stroke="#000" stroke-width="2.1"/>
<rect x="1410.2" y="965.4" width="84.4" height="21.8" fill="#BA1F00" stroke="#000" stroke-width="2.1"/>
<rect x="1494.6" y="965.4" width="84.4" height="21.8" fill="#8B0000" stroke="#000" stroke-width="2.1"/>
<text transform="translate(312.7 1025) scale(1 1.09)" class="cl" text-anchor="middle">10</text>
<text transform="translate(481.6 1025) scale(1 1.09)" class="cl" text-anchor="middle">50</text>
<text transform="translate(650.4 1025) scale(1 1.09)" class="cl" text-anchor="middle">90</text>
<text transform="translate(819.2 1025) scale(1 1.09)" class="cl" text-anchor="middle">130</text>
<text transform="translate(988.1 1025) scale(1 1.09)" class="cl" text-anchor="middle">170</text>
<text transform="translate(1156.9 1025) scale(1 1.09)" class="cl" text-anchor="middle">210</text>
<text transform="translate(1325.8 1025) scale(1 1.09)" class="cl" text-anchor="middle">250</text>
<text transform="translate(1494.6 1025) scale(1 1.09)" class="cl" text-anchor="middle">290</text>
</g>
<g>
<g clip-path="url(#clip1)">
<rect x="218" y="1255" width="1372" height="536" fill="#001FBA"/>
<path d="M220 1397C228.3 1397.2 247.8 1398.2 270 1398C292.2 1397.8 322.8 1397 353.3 1396C383.9 1395 420 1393.3 453.3 1392C486.7 1390.7 529.3 1389.2 553.3 1388C577.4 1386.8 588.1 1386.3 597.5 1384.5C606.9 1382.7 605.4 1379.5 610 1377C614.6 1374.5 618.3 1371.7 625 1369.5C631.7 1367.3 640.8 1365.5 650 1364C659.2 1362.5 670.8 1360.7 680 1360.5C689.2 1360.3 697.5 1361.9 705 1363C712.5 1364.1 715.8 1365.2 725 1367C734.2 1368.8 747.5 1371.7 760 1374C772.5 1376.3 785 1379.3 800 1381C815 1382.7 830.8 1383.1 850 1384C869.2 1384.9 893.1 1386.2 915 1386.7C936.9 1387.2 951.7 1386.8 981.7 1387C1011.7 1387.2 1065 1387.1 1095 1388C1125 1388.9 1139.4 1391.2 1161.7 1392.7C1183.9 1394.2 1206.1 1395.7 1228.3 1397C1250.6 1398.3 1275 1399.5 1295 1400.3C1315 1401.2 1331.7 1402.2 1348.3 1402C1365 1401.8 1378.9 1400.7 1395 1399.3C1411.1 1397.9 1428.3 1395 1445 1393.7C1461.7 1392.3 1478.3 1391.3 1495 1391.3C1511.7 1391.3 1529.4 1392.9 1545 1393.7C1560.6 1394.4 1581.1 1395.6 1588.3 1396L1588.3 1638C1583.9 1638.6 1571.7 1639.8 1561.7 1641.3C1551.7 1642.8 1542.2 1644.4 1528.3 1647C1514.4 1649.6 1493.3 1655.1 1478.3 1657C1463.3 1658.9 1448.9 1658.9 1438.3 1658.7C1427.8 1658.4 1422.2 1657.8 1415 1655.3C1407.8 1652.8 1402.2 1648.4 1395 1643.7C1387.8 1638.9 1380 1631.4 1371.7 1627C1363.3 1622.6 1354.4 1619.8 1345 1617C1335.6 1614.2 1323.9 1610.6 1315 1610.3C1306.1 1610.1 1299.4 1611.4 1291.7 1615.3C1283.9 1619.2 1278.9 1628.7 1268.3 1633.7C1257.8 1638.7 1243.3 1640.9 1228.3 1645.3C1213.3 1649.8 1195 1655.6 1178.3 1660.3C1161.7 1665.1 1142.2 1670.7 1128.3 1673.7C1114.4 1676.6 1108.3 1676.9 1095 1678C1081.7 1679.1 1064.4 1679.7 1048.3 1680.3C1032.2 1681 1015 1682 998.3 1682C981.7 1682 968.9 1681.6 948.3 1680.3C927.8 1679.1 891.1 1676.9 875 1674.7C858.9 1672.4 857.8 1670.8 851.7 1667C845.6 1663.2 842.2 1658.4 838.3 1652C834.4 1645.6 832.2 1634.8 828.3 1628.7C824.4 1622.6 818.3 1619.2 815 1615.3C811.7 1611.4 813.9 1609.8 808.3 1605.3C802.8 1600.9 788.9 1593.4 781.7 1588.7C774.4 1583.9 772.8 1579.7 765 1577C757.2 1574.3 743.4 1572.9 735 1572.7C726.6 1572.4 722.7 1574.1 714.7 1575.3C706.6 1576.6 696.9 1578.7 686.7 1580.3C676.4 1582 662.2 1583.9 653.3 1585.3C644.4 1586.7 640.6 1585.6 633.3 1588.7C626.1 1591.7 620 1600.9 610 1603.7C600 1606.4 580.6 1601.2 573.3 1605.3C566.1 1609.5 567.3 1620.9 566.7 1628.7C566 1636.4 569.3 1644.8 569.3 1652C569.3 1659.2 569.1 1663.7 566.7 1672C564.3 1680.3 559.7 1696.3 555 1702C550.3 1707.7 544.2 1706.6 538.3 1706.3C532.5 1706.1 528.6 1703 520 1700.3C511.4 1697.7 498.9 1693.7 486.7 1690.3C474.4 1687 458.9 1685.6 446.7 1680.3C434.4 1675.1 421.1 1664.8 413.3 1658.7C405.6 1652.6 404.4 1649.5 400 1643.7C395.6 1637.8 392.2 1630.1 386.7 1623.7C381.1 1617.3 373.3 1609.2 366.7 1605.3C360 1601.4 354.4 1602.3 346.7 1600.3C338.9 1598.4 327.2 1591.7 320 1593.7C312.8 1595.6 308.9 1607 303.3 1612C297.8 1617 295 1621.2 286.7 1623.7C278.3 1626.2 264.4 1625.1 253.3 1627C242.2 1628.9 225.6 1633.9 220 1635.3Z" fill="#0033E1"/>
<path d="M220 1415.3C228.3 1415.9 247.8 1418.8 270 1418.7C292.2 1418.6 328.3 1416.3 353.3 1414.7C378.3 1413 397.8 1410.8 420 1408.7C442.2 1406.6 464.4 1404.1 486.7 1402C508.9 1399.9 531.1 1397.7 553.3 1396C575.6 1394.3 597.8 1392.8 620 1392C642.2 1391.2 670.8 1390.5 686.7 1391.3C702.5 1392.2 703.1 1394.7 715 1397C726.9 1399.3 744.4 1403.7 758.3 1405.3C772.2 1407 783.3 1407.3 798.3 1407C813.3 1406.7 828.9 1404.8 848.3 1403.7C867.8 1402.6 892.8 1401.2 915 1400.3C937.2 1399.5 959.4 1398.8 981.7 1398.7C1003.9 1398.5 1029.4 1398.3 1048.3 1399.3C1067.2 1400.3 1076.1 1402.8 1095 1404.7C1113.9 1406.5 1139.4 1408.6 1161.7 1410.3C1183.9 1412.1 1206.1 1413.4 1228.3 1415.3C1250.6 1417.3 1275 1419.8 1295 1422C1315 1424.2 1334.4 1427.7 1348.3 1428.7C1362.2 1429.7 1365 1429.4 1378.3 1428C1391.7 1426.6 1411.7 1423 1428.3 1420.3C1445 1417.7 1461.7 1413.5 1478.3 1412C1495 1410.5 1510 1410.9 1528.3 1411.3C1546.7 1411.8 1578.3 1414.1 1588.3 1414.7L1588.3 1603.7C1583.9 1604.8 1571.7 1607.8 1561.7 1610.3C1551.7 1612.8 1540.6 1616.3 1528.3 1618.7C1516.1 1621 1499.4 1624.6 1488.3 1624.3C1477.2 1624.1 1471.7 1621.8 1461.7 1617C1451.7 1612.2 1437.8 1601.7 1428.3 1595.3C1418.9 1588.9 1413.3 1581.7 1405 1578.7C1396.7 1575.6 1386.7 1578.7 1378.3 1577C1370 1575.3 1362.2 1572 1355 1568.7C1347.8 1565.3 1340.6 1559.9 1335 1557C1329.4 1554.1 1326.1 1551.3 1321.7 1551.3C1317.2 1551.3 1313.9 1553.6 1308.3 1557C1302.8 1560.4 1293.9 1566.2 1288.3 1572C1282.8 1577.8 1279.4 1586.4 1275 1592C1270.6 1597.6 1269.4 1601.2 1261.7 1605.3C1253.9 1609.5 1242.2 1613.1 1228.3 1617C1214.4 1620.9 1195 1624.8 1178.3 1628.7C1161.7 1632.6 1142.2 1637.8 1128.3 1640.3C1114.4 1642.8 1108.3 1644.1 1095 1643.7C1081.7 1643.3 1061.7 1640.2 1048.3 1638C1035 1635.8 1026.1 1633 1015 1630.3C1003.9 1627.7 992.8 1624.8 981.7 1622C970.6 1619.2 959.4 1617.6 948.3 1613.7C937.2 1609.8 926.1 1604.5 915 1598.7C903.9 1592.8 895.6 1585.6 881.7 1578.7C867.8 1571.7 845.6 1563.1 831.7 1557C817.8 1550.9 809.4 1546.7 798.3 1542C787.2 1537.3 776.1 1531.4 765 1528.7C753.9 1525.9 744.7 1524.9 731.7 1525.3C718.6 1525.8 699.7 1529.8 686.7 1531.3C673.6 1532.9 664.4 1534 653.3 1534.7C642.2 1535.3 629.4 1534.4 620 1535.3C610.6 1536.3 605 1538.9 596.7 1540.3C588.3 1541.7 582.8 1542.9 570 1543.7C557.2 1544.4 536.7 1542.7 520 1544.7C503.3 1546.6 486.7 1552.6 470 1555.3C453.3 1558.1 435.6 1559.6 420 1561.3C404.4 1563.1 387.8 1566.2 376.7 1566C365.6 1565.8 361.7 1563.8 353.3 1560.3C345 1556.9 332.8 1548.3 326.7 1545.3C320.6 1542.4 321.7 1542.7 316.7 1542.7C311.7 1542.7 303.3 1541.8 296.7 1545.3C290 1548.8 283.3 1558.7 276.7 1563.7C270 1568.7 262.8 1570.9 256.7 1575.3C250.6 1579.8 246.1 1586.4 240 1590.3C233.9 1594.2 223.3 1597.3 220 1598.7Z" fill="#1A52FF"/>
<path d="M220 1435.3C228.3 1436.3 253.3 1440.8 270 1441.3C286.7 1441.9 303.3 1439.9 320 1438.7C336.7 1437.4 353.3 1435.9 370 1433.7C386.7 1431.4 400.6 1427.8 420 1425.3C439.4 1422.8 464.4 1421.4 486.7 1418.7C508.9 1415.9 535 1411.2 553.3 1408.7C571.7 1406.2 582.8 1404.2 596.7 1403.7C610.6 1403.1 621.7 1403.7 636.7 1405.3C651.7 1407 673.7 1410.9 686.7 1413.7C699.7 1416.4 704.4 1419.2 714.7 1422C724.9 1424.8 737.2 1428.4 748.3 1430.3C759.5 1432.3 770.6 1433.9 781.7 1433.7C792.8 1433.4 801.1 1430.6 815 1428.7C828.9 1426.7 848.3 1423.9 865 1422C881.7 1420.1 897.8 1418.2 915 1417C932.2 1415.8 951.7 1414.9 968.3 1414.7C985 1414.4 993.9 1414 1015 1415.3C1036.1 1416.7 1070.6 1420.4 1095 1422.7C1119.4 1424.9 1139.4 1426.8 1161.7 1428.7C1183.9 1430.5 1208.9 1431.4 1228.3 1433.7C1247.8 1435.9 1264.4 1438.9 1278.3 1442C1292.2 1445.1 1301.1 1449.1 1311.7 1452C1322.2 1454.9 1330.6 1458.8 1341.7 1459.3C1352.8 1459.9 1363.9 1457.1 1378.3 1455.3C1392.8 1453.6 1414.4 1451.4 1428.3 1448.7C1442.2 1445.9 1450.6 1441.4 1461.7 1438.7C1472.8 1435.9 1481.1 1433.1 1495 1432C1508.9 1430.9 1529.4 1431.7 1545 1432C1560.6 1432.3 1581.1 1433.4 1588.3 1433.7L1588.3 1572C1581.1 1573.6 1556.1 1579.6 1545 1581.3C1533.9 1583.1 1530 1584.2 1521.7 1582.7C1513.3 1581.1 1505 1575.7 1495 1572C1485 1568.3 1472.8 1564.2 1461.7 1560.3C1450.6 1556.4 1438.3 1551 1428.3 1548.7C1418.3 1546.3 1409.4 1546.1 1401.7 1546.3C1393.9 1546.6 1390.6 1552.2 1381.7 1550.3C1372.8 1548.5 1357.2 1539.1 1348.3 1535.3C1339.4 1531.6 1336.1 1528.3 1328.3 1528C1320.6 1527.7 1308.9 1530.8 1301.7 1533.7C1294.4 1536.6 1290 1540.6 1285 1545.3C1280 1550.1 1276.7 1556.4 1271.7 1562C1266.7 1567.6 1262.2 1573.9 1255 1578.7C1247.8 1583.4 1241.1 1586.4 1228.3 1590.3C1215.6 1594.2 1195 1598.5 1178.3 1602C1161.7 1605.5 1142.2 1609.8 1128.3 1611.3C1114.4 1612.9 1108.3 1612.9 1095 1611.3C1081.7 1609.8 1061.7 1605.2 1048.3 1602C1035 1598.8 1026.1 1595.3 1015 1592C1003.9 1588.7 992.8 1585.1 981.7 1582C970.6 1578.9 959.4 1577.6 948.3 1573.7C937.2 1569.8 926.1 1563.9 915 1558.7C903.9 1553.4 892.8 1547 881.7 1542C870.6 1537 859.4 1533.4 848.3 1528.7C837.2 1523.9 824.1 1518.2 815 1513.7C805.9 1509.1 798 1508.8 794 1501.3C790 1493.8 792.2 1477.7 791 1468.7C789.8 1459.6 788.2 1451.3 786.7 1447C785.1 1442.7 785.3 1442.2 781.7 1443C778.1 1443.8 770.6 1448.4 765 1452C759.4 1455.6 753.3 1461.9 748.3 1464.7C743.3 1467.4 740.6 1466.1 735 1468.7C729.4 1471.3 723.1 1476.4 715 1480.3C706.9 1484.2 698.1 1488.7 686.7 1492C675.3 1495.3 658.9 1498.4 646.7 1500.3C634.4 1502.3 623.3 1501.1 613.3 1503.7C603.3 1506.3 596.7 1513.8 586.7 1516C576.7 1518.2 564.4 1516.3 553.3 1517C542.2 1517.7 533.9 1518.4 520 1520.3C506.1 1522.3 485.6 1525.9 470 1528.7C454.4 1531.4 440.6 1534.8 426.7 1537C412.8 1539.2 397.2 1541.3 386.7 1542C376.1 1542.7 371.7 1542.4 363.3 1541.3C355 1540.2 345 1537 336.7 1535.3C328.3 1533.7 321.7 1531.6 313.3 1531.3C305 1531.1 295 1531.9 286.7 1533.7C278.3 1535.4 271.1 1537.6 263.3 1542C255.6 1546.4 247.2 1555.6 240 1560.3C232.8 1565.1 223.3 1568.7 220 1570.3Z" fill="#4278FF"/>
<path d="M220 1463.7C227.2 1463.9 248.3 1463.5 263.3 1465.3C278.3 1467.2 298.3 1474.1 310 1474.7C321.7 1475.2 321.7 1470.8 333.3 1468.7C345 1466.6 368.9 1464.5 380 1462C391.1 1459.5 394.2 1457.6 400 1453.7C405.8 1449.8 406.1 1442.6 415 1438.7C423.9 1434.8 435.8 1433.1 453.3 1430.3C470.8 1427.6 497.8 1424.8 520 1422C542.2 1419.2 571.7 1415.2 586.7 1413.7C601.7 1412.2 598.9 1411.6 610 1413C621.1 1414.4 640 1417.6 653.3 1422C666.7 1426.4 683.9 1436.7 690 1439.7L690 1439.7C685 1444.2 668.9 1460.5 660 1467C651.1 1473.5 648.9 1474.5 636.7 1478.7C624.4 1482.8 600.6 1490.2 586.7 1492C572.8 1493.8 564.4 1489.1 553.3 1489.3C542.2 1489.6 533.9 1490.7 520 1493.7C506.1 1496.6 486.7 1502.4 470 1507C453.3 1511.6 435 1518 420 1521.3C405 1524.7 391.1 1526.4 380 1527C368.9 1527.6 364.4 1526.6 353.3 1524.7C342.2 1522.7 324.4 1516.3 313.3 1515.3C302.2 1514.3 296.7 1516.2 286.7 1518.7C276.7 1521.2 264.4 1526.2 253.3 1530.3C242.2 1534.5 225.6 1541.4 220 1543.7Z" fill="#85AAFF"/>
<path d="M870 1500.3C871.7 1495.6 876.6 1482.1 880 1472C883.4 1461.9 882.1 1446.6 890.7 1439.7C899.3 1432.7 916.5 1432.1 931.7 1430.3C946.8 1428.6 965 1428.8 981.7 1429.3C998.3 1429.9 1020.6 1432.6 1031.7 1433.7C1042.8 1434.8 1037.8 1434.3 1048.3 1436C1058.9 1437.7 1081.7 1441.3 1095 1443.7C1108.3 1446.1 1111.7 1447.6 1128.3 1450.3C1145 1453.1 1175.6 1458.1 1195 1460.3C1214.4 1462.6 1231.7 1462.3 1245 1463.7C1258.3 1465.1 1266.7 1466.4 1275 1468.7C1283.3 1470.9 1288.3 1473.4 1295 1477C1301.7 1480.6 1309.2 1487 1315 1490.3C1320.8 1493.7 1324.4 1497 1330 1497C1335.6 1497 1340.3 1492.8 1348.3 1490.3C1356.4 1487.8 1367.8 1483.8 1378.3 1482C1388.9 1480.2 1403.3 1479.6 1411.7 1479.3C1420 1479.1 1421.1 1479.1 1428.3 1480.3C1435.6 1481.6 1446.7 1485.3 1455 1487C1463.3 1488.7 1471.7 1490.9 1478.3 1490.3C1485 1489.8 1488.9 1486.2 1495 1483.7C1501.1 1481.2 1506.7 1477.4 1515 1475.3C1523.3 1473.3 1532.8 1472.9 1545 1471.3C1557.2 1469.8 1581.1 1466.9 1588.3 1466L1588.3 1543.7C1582.8 1542.8 1565.6 1540.3 1555 1538.7C1544.4 1537 1533.9 1536.4 1525 1533.7C1516.1 1530.9 1508.9 1525.6 1501.7 1522C1494.4 1518.4 1488.3 1513.4 1481.7 1512C1475 1510.6 1467.8 1512.6 1461.7 1513.7C1455.6 1514.8 1452.8 1517 1445 1518.7C1437.2 1520.3 1425.6 1522.6 1415 1523.7C1404.4 1524.8 1391.7 1526.7 1381.7 1525.3C1371.7 1523.9 1363.6 1518.8 1355 1515.3C1346.4 1511.9 1337.8 1505.2 1330 1504.7C1322.2 1504.1 1315.3 1508.3 1308.3 1512C1301.4 1515.7 1293.9 1521.4 1288.3 1527C1282.8 1532.6 1279.4 1539.8 1275 1545.3C1270.6 1550.9 1268.3 1556.2 1261.7 1560.3C1255 1564.5 1246.1 1567.6 1235 1570.3C1223.9 1573.1 1210 1574.8 1195 1577C1180 1579.2 1161.7 1582.4 1145 1583.7C1128.3 1584.9 1111.1 1586.3 1095 1584.7C1078.9 1583 1064.4 1578.3 1048.3 1573.7C1032.2 1569.1 1015 1562.3 998.3 1557C981.7 1551.7 965 1548.9 948.3 1542C931.7 1535.1 911.4 1522.3 898.3 1515.3C885.3 1508.4 874.7 1502.8 870 1500.3Z" fill="#85AAFF"/>
<path d="M216.7 1489.3C220.6 1485.3 232.2 1489.4 240 1489.3C247.8 1489.2 256.7 1487.8 263.3 1488.7C270 1489.6 275.3 1492.7 280 1494.7C284.7 1496.6 293.3 1497.7 291.7 1500.3C290 1502.9 276.4 1508.5 270 1510.3C263.6 1512.2 259.4 1510.6 253.3 1511.3C247.2 1512.1 239.4 1514.3 233.3 1514.7C227.2 1515.1 219.4 1517.9 216.7 1513.7C213.9 1509.4 212.8 1493.4 216.7 1489.3Z" fill="#B2CDFF"/>
<path d="M326 1500.3C328.8 1498.8 346 1495.9 353.3 1494.7C360.7 1493.4 364.4 1493.9 370 1492.7C375.6 1491.4 380.6 1487.8 386.7 1487C392.8 1486.2 401.1 1486.9 406.7 1488C412.2 1489.1 416.8 1491.6 420 1493.7C423.2 1495.7 428.2 1498.1 426 1500.3C423.8 1502.6 413.2 1505.3 406.7 1507C400.1 1508.7 392.8 1510.3 386.7 1510.3C380.6 1510.3 375.6 1507.7 370 1507C364.4 1506.3 358.9 1506.6 353.3 1506C347.8 1505.4 341.2 1504.6 336.7 1503.7C332.1 1502.7 323.2 1501.8 326 1500.3Z" fill="#B2CDFF"/>
<path d="M476 1439.7C478.8 1437.7 507.1 1437.2 520 1435.3C532.9 1433.5 542.2 1430.8 553.3 1428.7C564.4 1426.6 575.6 1423.3 586.7 1422.7C597.8 1422 608.2 1421.8 620 1424.7C631.8 1427.5 655.7 1434.1 657.3 1439.7C659 1445.2 639 1452.7 630 1458C621 1463.3 610.6 1468.9 603.3 1471.3C596.1 1473.8 593.3 1473.4 586.7 1472.7C580 1471.9 571.7 1469.6 563.3 1467C555 1464.4 546.7 1460.3 536.7 1457C526.7 1453.7 513.4 1449.9 503.3 1447C493.2 1444.1 473.2 1441.6 476 1439.7Z" fill="#B2CDFF"/>
<path d="M927.3 1501.3C924.6 1494.7 942.1 1484.7 948.3 1478.7C954.6 1472.7 959.4 1468.3 965 1465.3C970.6 1462.4 976.1 1461.7 981.7 1461C987.2 1460.3 992.8 1460.6 998.3 1461.3C1003.9 1462.1 1006.7 1464.4 1015 1465.3C1023.3 1466.3 1035 1465.6 1048.3 1467C1061.7 1468.4 1078.9 1470.6 1095 1473.7C1111.1 1476.7 1129.4 1482 1145 1485.3C1160.6 1488.7 1176.4 1491.2 1188.3 1493.7C1200.3 1496.2 1211.6 1496.2 1216.7 1500.3C1221.8 1504.5 1218.3 1513.1 1219 1518.7C1219.7 1524.2 1220 1530.6 1221 1533.7C1222 1536.7 1222.9 1538.1 1225 1537C1227.1 1535.9 1231.1 1532.9 1233.3 1527C1235.6 1521.1 1233.6 1506.7 1238.3 1501.3C1243.1 1495.9 1255.6 1495.7 1261.7 1494.7C1267.8 1493.7 1270.7 1494.2 1275 1495.3C1279.3 1496.4 1287.1 1499.1 1287.7 1501.3C1288.2 1503.6 1281.6 1505.5 1278.3 1508.7C1275.1 1511.8 1272.2 1516.4 1268.3 1520.3C1264.4 1524.2 1258.3 1529.2 1255 1532C1251.7 1534.8 1250 1534.9 1248.3 1537C1246.7 1539.1 1249.4 1543.2 1245 1544.7C1240.6 1546.2 1235.6 1544.8 1221.7 1546C1207.8 1547.2 1177.2 1550.3 1161.7 1552C1146.1 1553.7 1139.4 1555.3 1128.3 1556C1117.2 1556.7 1108.3 1557.2 1095 1556C1081.7 1554.8 1061.7 1552.1 1048.3 1548.7C1035 1545.2 1028.9 1540.3 1015 1535.3C1001.1 1530.3 979.6 1524.3 965 1518.7C950.4 1513 930.1 1508 927.3 1501.3Z" fill="#B2CDFF"/>
<path d="M1588.3 1496.7C1586.9 1495.9 1580 1499.8 1580 1501.3C1580 1502.9 1586.9 1506.8 1588.3 1506C1589.7 1505.2 1589.7 1497.4 1588.3 1496.7Z" fill="#B2CDFF"/>
<path d="M557.3 1439.7C557.3 1437.1 574 1434.8 580 1433.7C586 1432.5 588.3 1432.5 593.3 1432.7C598.3 1432.8 605.3 1433.5 610 1434.7C614.7 1435.8 622.8 1436.9 621.7 1439.7C620.6 1442.4 608.3 1449.2 603.3 1451.3C598.3 1453.5 595.6 1453 591.7 1452.7C587.8 1452.3 585.7 1451.5 580 1449.3C574.3 1447.2 557.3 1442.3 557.3 1439.7Z" fill="#D9ECFF"/>
<path d="M1029.3 1500.3C1029.9 1498.9 1042.4 1498.3 1048.3 1498C1054.3 1497.7 1060 1498.1 1065 1498.7C1070 1499.2 1078.9 1500.1 1078.3 1501.3C1077.8 1502.6 1067.2 1505.5 1061.7 1506.3C1056.1 1507.2 1050.4 1507.3 1045 1506.3C1039.6 1505.3 1028.8 1501.7 1029.3 1500.3Z" fill="#D9ECFF"/>
<path d="M624 1683.7C625.4 1680.6 630.6 1681.2 633.3 1682C636.1 1682.8 637.6 1683.9 640.7 1688.7C643.7 1693.4 651.2 1705.9 651.7 1710.3C652.1 1714.8 646.4 1714.9 643.3 1715.3C640.3 1715.7 636.4 1715.2 633.3 1712.7C630.3 1710.2 626.6 1705.2 625 1700.3C623.4 1695.5 622.6 1686.7 624 1683.7Z" fill="#0033E1"/>
<path d="M689.3 1710.3C689.3 1706.2 695.7 1701.7 700 1700.3C704.3 1698.9 710.8 1701.7 715 1702C719.2 1702.3 720.8 1700.6 725 1702C729.2 1703.4 737.1 1707 740 1710.3C742.9 1713.7 744.6 1717.6 742.7 1722C740.7 1726.4 732.9 1734.8 728.3 1737C723.7 1739.2 719.7 1737.3 715 1735.3C710.3 1733.4 704.3 1729.5 700 1725.3C695.7 1721.2 689.3 1714.5 689.3 1710.3Z" fill="#0033E1"/>
<path d="M220 1718.7C222.8 1718.8 230 1717.8 236.7 1719.3C243.3 1720.9 252.8 1727 260 1728C267.2 1729 271.1 1724.9 280 1725.3C288.9 1725.7 305 1730.3 313.3 1730.3C321.7 1730.3 325 1727.4 330 1725.3C335 1723.3 339.4 1719.1 343.3 1718C347.2 1716.9 350 1715.8 353.3 1718.7C356.7 1721.6 358.9 1730.6 363.3 1735.3C367.8 1740.1 376.6 1743.1 380 1747C383.4 1750.9 384.1 1754.5 384 1758.7C383.9 1762.8 379.4 1768.7 379.3 1772C379.2 1775.3 379.9 1777.3 383.3 1778.7C386.8 1780.1 395.3 1778.7 400 1780.3C404.7 1782 409.7 1787.3 411.7 1788.7L411.7 1790 L220 1790 Z" fill="#00008B"/>
<path d="M928.3 1788.7C937.2 1787.3 964.4 1782.3 981.7 1780.3C998.9 1778.4 1017.8 1778.1 1031.7 1777C1045.6 1775.9 1057.2 1775.3 1065 1773.7C1072.8 1772 1073.3 1770.1 1078.3 1767C1083.3 1763.9 1086.7 1759.8 1095 1755.3C1103.3 1750.9 1114.4 1745.1 1128.3 1740.3C1142.2 1735.6 1162.8 1730.5 1178.3 1727C1193.9 1723.5 1210.6 1720.7 1221.7 1719.3C1232.8 1717.9 1236.9 1718.2 1245 1718.7C1253.1 1719.1 1264.7 1722.6 1270 1722C1275.3 1721.4 1274.7 1716.4 1276.7 1715.3C1278.6 1714.2 1279.2 1716.8 1281.7 1715.3C1284.2 1713.8 1289.2 1706.3 1291.7 1706.3C1294.2 1706.3 1295 1714.7 1296.7 1715.3C1298.3 1716 1299.7 1710.1 1301.7 1710.3C1303.6 1710.6 1303.3 1716.3 1308.3 1717C1313.3 1717.7 1322.8 1713.1 1331.7 1714.3C1340.6 1715.6 1351.1 1723.3 1361.7 1724.3C1372.2 1725.3 1381.1 1722.5 1395 1720.3C1408.9 1718.2 1428.3 1714.4 1445 1711.3C1461.7 1708.3 1481.1 1703.1 1495 1702C1508.9 1700.9 1517.2 1703.3 1528.3 1704.7C1539.4 1706.1 1551.7 1708.6 1561.7 1710.3C1571.7 1712.1 1583.9 1714.5 1588.3 1715.3L1588.3 1790 L928.3 1790 Z" fill="#00008B"/>
<path d="M598.3 1788.7L603.3 1782.7L611.7 1782.7L618.3 1788.7Z" fill="#00008B"/>
<path d="M645 1788.7L653.3 1780.3L663.3 1782.7L670 1788.7Z" fill="#00008B"/>
<path d="M1455.9 1334.6C1450.8 1333.8 1464.1 1331.2 1468 1330C1471.9 1328.8 1475.8 1327.4 1479.5 1327.4C1483.2 1327.4 1486.8 1328.8 1490 1330C1493.2 1331.2 1504.1 1333.8 1498.4 1334.6C1492.7 1335.4 1461 1335.4 1455.9 1334.6Z" fill="#00008B"/>
<path d="M1115 1776.3C1117.8 1774.9 1131.7 1773.8 1145 1773.7C1158.3 1773.5 1180.3 1774.2 1195 1775.3C1209.7 1776.4 1228.3 1778.7 1233.3 1780.3C1238.3 1782 1236.9 1784.2 1225 1785.3C1213.1 1786.4 1177.8 1787.6 1161.7 1787C1145.6 1786.4 1136.1 1783.8 1128.3 1782C1120.6 1780.2 1112.2 1777.7 1115 1776.3Z" fill="#001FBA"/>
<path d="M343.3 1762.7C343.1 1761 345.1 1754.8 346.7 1752C348.2 1749.2 350.7 1745.4 352.7 1746C354.6 1746.6 359.1 1752.7 358.3 1755.3C357.6 1758 350.8 1760.8 348.3 1762C345.8 1763.2 343.6 1764.3 343.3 1762.7Z" fill="#001FBA"/>
<path d="M350 1767.3C350.6 1766.9 357.5 1767.5 358.3 1768C359.2 1768.5 356.4 1770.4 355 1770.3C353.6 1770.2 349.4 1767.7 350 1767.3Z" fill="#001FBA"/>
<path d="M1284.3 1778C1285 1777.6 1287.2 1778.4 1287.7 1779.3C1288.1 1780.2 1287.7 1782.9 1287 1783.3C1286.3 1783.8 1284.1 1782.9 1283.7 1782C1283.2 1781.1 1283.7 1778.4 1284.3 1778Z" fill="#001FBA"/>
<path d="M258.3 1788.7L258.3 1785.3L268.3 1785.3L268.3 1781.3L315 1781.3L315 1777L325 1777L325 1772.7L353.3 1772.7L353.3 1777L363.3 1777L363.3 1781.3L373.3 1781.3L373.3 1785.3L378.3 1785.3L378.3 1788.7Z" fill="#000"/>
<path d="M600 1788.7L600 1785.3L610 1785.3L610 1788.7Z" fill="#000"/>
<path d="M646.7 1788.7L646.7 1786L668.3 1786L668.3 1784.7L676.7 1784.7L676.7 1788.7Z" fill="#000"/>
<path d="M1296.7 1788.7L1296.7 1781.3L1305.7 1781.3L1305.7 1785.3L1396.7 1785.3L1396.7 1788.7Z" fill="#000"/>
<path d="M1286.7 1788.7L1286.7 1785.7L1296.7 1785.7L1296.7 1788.7Z" fill="#000"/>
</g>
<rect x="220.2" y="1256.9" width="1367.1" height="532.2" fill="none" stroke="#000" stroke-width="4.3" stroke-linejoin="round"/>
<line x1="189" x2="219" y1="1256.9" y2="1256.9" class="tk"/>
<text transform="translate(164.5 1270.1) scale(1 1.1)" class="tl" text-anchor="end">30</text>
<line x1="189" x2="219" y1="1334.4" y2="1334.4" class="tk"/>
<text transform="translate(164.5 1347.6) scale(1 1.1)" class="tl" text-anchor="end">50</text>
<line x1="189" x2="219" y1="1385.5" y2="1385.5" class="tk"/>
<text transform="translate(164.5 1398.7) scale(1 1.1)" class="tl" text-anchor="end">70</text>
<line x1="189" x2="219" y1="1439.6" y2="1439.6" class="tk"/>
<text transform="translate(164.5 1452.8) scale(1 1.1)" class="tl" text-anchor="end">100</text>
<line x1="189" x2="219" y1="1501.2" y2="1501.2" class="tk"/>
<text transform="translate(164.5 1514.4) scale(1 1.1)" class="tl" text-anchor="end">150</text>
<line x1="189" x2="219" y1="1544.8" y2="1544.8" class="tk"/>
<text transform="translate(164.5 1558) scale(1 1.1)" class="tl" text-anchor="end">200</text>
<line x1="189" x2="219" y1="1578.7" y2="1578.7" class="tk"/>
<text transform="translate(164.5 1591.9) scale(1 1.1)" class="tl" text-anchor="end">250</text>
<line x1="189" x2="219" y1="1606.4" y2="1606.4" class="tk"/>
<text transform="translate(164.5 1619.6) scale(1 1.1)" class="tl" text-anchor="end">300</text>
<line x1="189" x2="219" y1="1650" y2="1650" class="tk"/>
<text transform="translate(164.5 1663.2) scale(1 1.1)" class="tl" text-anchor="end">400</text>
<line x1="189" x2="219" y1="1683.9" y2="1683.9" class="tk"/>
<text transform="translate(164.5 1697.1) scale(1 1.1)" class="tl" text-anchor="end">500</text>
<line x1="189" x2="219" y1="1735" y2="1735" class="tk"/>
<text transform="translate(164.5 1748.2) scale(1 1.1)" class="tl" text-anchor="end">700</text>
<line x1="189" x2="219" y1="1764.4" y2="1764.4" class="tk"/>
<text transform="translate(164.5 1777.6) scale(1 1.1)" class="tl" text-anchor="end">850</text>
<line x1="189" x2="219" y1="1789.1" y2="1789.1" class="tk"/>
<text transform="translate(164.5 1802.3) scale(1 1.1)" class="tl" text-anchor="end">1000</text>
<line x1="1588" x2="1618.5" y1="1349.4" y2="1349.4" class="tk"/>
<text transform="translate(1643 1362.6) scale(1 1.1)" class="tl">20</text>
<line x1="1588" x2="1618.5" y1="1445" y2="1445" class="tk"/>
<text transform="translate(1643 1458.2) scale(1 1.1)" class="tl">16</text>
<line x1="1588" x2="1618.5" y1="1540.4" y2="1540.4" class="tk"/>
<text transform="translate(1643 1553.6) scale(1 1.1)" class="tl">12</text>
<line x1="1588" x2="1618.5" y1="1632.2" y2="1632.2" class="tk"/>
<text transform="translate(1643 1645.4) scale(1 1.1)" class="tl">8</text>
<line x1="1588" x2="1618.5" y1="1715.6" y2="1715.6" class="tk"/>
<text transform="translate(1643 1728.8) scale(1 1.1)" class="tl">4</text>
<line x1="220.2" x2="220.2" y1="1225.5" y2="1256.9" class="tk"/>
<line x1="220.2" x2="220.2" y1="1789.1" y2="1819.4" class="tk"/>
<line x1="334.4" x2="334.4" y1="1240" y2="1256.9" class="tm"/>
<line x1="334.4" x2="334.4" y1="1789.1" y2="1805" class="tm"/>
<line x1="448.8" x2="448.8" y1="1225.5" y2="1256.9" class="tk"/>
<line x1="448.8" x2="448.8" y1="1789.1" y2="1819.4" class="tk"/>
<line x1="563" x2="563" y1="1240" y2="1256.9" class="tm"/>
<line x1="563" x2="563" y1="1789.1" y2="1805" class="tm"/>
<line x1="677.4" x2="677.4" y1="1225.5" y2="1256.9" class="tk"/>
<line x1="677.4" x2="677.4" y1="1789.1" y2="1819.4" class="tk"/>
<line x1="791.6" x2="791.6" y1="1240" y2="1256.9" class="tm"/>
<line x1="791.6" x2="791.6" y1="1789.1" y2="1805" class="tm"/>
<line x1="905.9" x2="905.9" y1="1225.5" y2="1256.9" class="tk"/>
<line x1="905.9" x2="905.9" y1="1789.1" y2="1819.4" class="tk"/>
<line x1="1020.2" x2="1020.2" y1="1240" y2="1256.9" class="tm"/>
<line x1="1020.2" x2="1020.2" y1="1789.1" y2="1805" class="tm"/>
<line x1="1134.5" x2="1134.5" y1="1225.5" y2="1256.9" class="tk"/>
<line x1="1134.5" x2="1134.5" y1="1789.1" y2="1819.4" class="tk"/>
<line x1="1248.9" x2="1248.9" y1="1240" y2="1256.9" class="tm"/>
<line x1="1248.9" x2="1248.9" y1="1789.1" y2="1805" class="tm"/>
<line x1="1363.2" x2="1363.2" y1="1225.5" y2="1256.9" class="tk"/>
<line x1="1363.2" x2="1363.2" y1="1789.1" y2="1819.4" class="tk"/>
<line x1="1477.5" x2="1477.5" y1="1240" y2="1256.9" class="tm"/>
<line x1="1477.5" x2="1477.5" y1="1789.1" y2="1805" class="tm"/>
<text transform="translate(219.6 1872.2) scale(1 1.1)" class="tl" text-anchor="middle">0</text>
<text transform="translate(448.1 1872.2) scale(1 1.1)" class="tl" text-anchor="middle">60E</text>
<text transform="translate(676.8 1872.2) scale(1 1.1)" class="tl" text-anchor="middle">120E</text>
<text transform="translate(905.3 1872.2) scale(1 1.1)" class="tl" text-anchor="middle">180</text>
<text transform="translate(1134 1872.2) scale(1 1.1)" class="tl" text-anchor="middle">120W</text>
<text transform="translate(1362.6 1872.2) scale(1 1.1)" class="tl" text-anchor="middle">60W</text>
<text transform="translate(904.7 1137.8)" class="st" text-anchor="middle">f09.B-2xCO2.cfmip.cf40 (yrs 1-30)</text>
<text transform="translate(220.2 1212) scale(1 1.03)" class="lt">Transient eddy KE</text>
<text x="1588.6" y="1220.6" class="lt" text-anchor="end">m<tspan dy="-20.6" font-size="26.5">2</tspan><tspan dy="20.6">/s</tspan><tspan dy="-20.6" font-size="26.5">2</tspan></text>
<text transform="translate(44.6 1523) rotate(-90) scale(1 1.068)" class="at" text-anchor="middle">Pressure (mb)</text>
<text transform="translate(1761 1523) rotate(-90) scale(1 1.068)" class="at" text-anchor="middle">Height (km)</text>
<text transform="translate(710.3 1903.4) scale(1 1.066)" class="mm" xml:space="preserve">MIN =   1.10  MAX = 142.69</text>
<rect x="228.3" y="1937.4" width="84.4" height="21.8" fill="#00008B" stroke="#000" stroke-width="2.1"/>
<rect x="312.7" y="1937.4" width="84.4" height="21.8" fill="#001FBA" stroke="#000" stroke-width="2.1"/>
<rect x="397.1" y="1937.4" width="84.4" height="21.8" fill="#0033E1" stroke="#000" stroke-width="2.1"/>
<rect x="481.6" y="1937.4" width="84.4" height="21.8" fill="#1A52FF" stroke="#000" stroke-width="2.1"/>
<rect x="566" y="1937.4" width="84.4" height="21.8" fill="#4278FF" stroke="#000" stroke-width="2.1"/>
<rect x="650.4" y="1937.4" width="84.4" height="21.8" fill="#85AAFF" stroke="#000" stroke-width="2.1"/>
<rect x="734.8" y="1937.4" width="84.4" height="21.8" fill="#B2CDFF" stroke="#000" stroke-width="2.1"/>
<rect x="819.2" y="1937.4" width="84.4" height="21.8" fill="#D9ECFF" stroke="#000" stroke-width="2.1"/>
<rect x="903.7" y="1937.4" width="84.4" height="21.8" fill="#FFECD9" stroke="#000" stroke-width="2.1"/>
<rect x="988.1" y="1937.4" width="84.4" height="21.8" fill="#FFCCB2" stroke="#000" stroke-width="2.1"/>
<rect x="1072.5" y="1937.4" width="84.4" height="21.8" fill="#FFAA85" stroke="#000" stroke-width="2.1"/>
<rect x="1156.9" y="1937.4" width="84.4" height="21.8" fill="#FF7842" stroke="#000" stroke-width="2.1"/>
<rect x="1241.3" y="1937.4" width="84.4" height="21.8" fill="#FF521A" stroke="#000" stroke-width="2.1"/>
<rect x="1325.8" y="1937.4" width="84.4" height="21.8" fill="#E13300" stroke="#000" stroke-width="2.1"/>
<rect x="1410.2" y="1937.4" width="84.4" height="21.8" fill="#BA1F00" stroke="#000" stroke-width="2.1"/>
<rect x="1494.6" y="1937.4" width="84.4" height="21.8" fill="#8B0000" stroke="#000" stroke-width="2.1"/>
<text transform="translate(312.7 1997) scale(1 1.09)" class="cl" text-anchor="middle">10</text>
<text transform="translate(481.6 1997) scale(1 1.09)" class="cl" text-anchor="middle">50</text>
<text transform="translate(650.4 1997) scale(1 1.09)" class="cl" text-anchor="middle">90</text>
<text transform="translate(819.2 1997) scale(1 1.09)" class="cl" text-anchor="middle">130</text>
<text transform="translate(988.1 1997) scale(1 1.09)" class="cl" text-anchor="middle">170</text>
<text transform="translate(1156.9 1997) scale(1 1.09)" class="cl" text-anchor="middle">210</text>
<text transform="translate(1325.8 1997) scale(1 1.09)" class="cl" text-anchor="middle">250</text>
<text transform="translate(1494.6 1997) scale(1 1.09)" class="cl" text-anchor="middle">290</text>
</g>
<g>
<g clip-path="url(#clip2)">
<rect x="218" y="2227" width="1372" height="536" fill="#FFECD9"/>
<path d="M803.3 2204C835.6 2206.8 793.1 2217.1 790 2220.7C786.9 2224.3 788.9 2221.2 785 2225.7C781.1 2230.1 773.6 2242.6 766.7 2247.3C759.7 2252.1 750 2250.1 743.3 2254C736.7 2257.9 731.1 2265.1 726.7 2270.7C722.2 2276.2 721.1 2282.1 716.7 2287.3C712.2 2292.6 703.1 2299.1 700 2302.3C696.9 2305.6 702.2 2305.3 698.3 2306.7C694.4 2308.1 683.1 2309.2 676.7 2310.7C670.3 2312.2 663.9 2314 660 2315.7C656.1 2317.3 656.1 2316.5 653.3 2320.7C650.6 2324.8 646.4 2334 643.3 2340.7C640.3 2347.3 638.9 2355.7 635 2360.7C631.1 2365.7 623.9 2366.2 620 2370.7C616.1 2375.1 613.6 2380.7 611.7 2387.3C609.7 2394 608.3 2404 608.3 2410.7C608.3 2417.3 610.4 2423.1 611.7 2427.3C612.9 2431.6 614.1 2435.8 616 2436.3C617.9 2436.9 620.2 2433.6 623.3 2430.7C626.5 2427.8 631.4 2422.1 635 2419C638.6 2415.9 642.8 2415.9 645 2412.3C647.2 2408.7 646.9 2401.5 648.3 2397.3C649.7 2393.2 650.8 2388.7 653.3 2387.3C655.8 2385.9 660 2387.3 663.3 2389C666.7 2390.7 670 2393.7 673.3 2397.3C676.7 2400.9 681.1 2405.7 683.3 2410.7C685.6 2415.7 684.4 2421.8 686.7 2427.3C688.9 2432.9 692.2 2439.3 696.7 2444C701.1 2448.7 708.9 2453 713.3 2455.7C717.8 2458.3 718.9 2460 723.3 2460C727.8 2460 734.4 2455.8 740 2455.7C745.6 2455.5 751.7 2457.3 756.7 2459C761.7 2460.7 765.7 2463.3 770 2465.7C774.3 2468.1 780.2 2469.2 782.7 2473.3C785.2 2477.5 783.8 2484.4 785 2490.7C786.2 2496.9 788.1 2504.4 790 2510.7C791.9 2516.9 794.7 2525.1 796.7 2528C798.6 2530.9 799.4 2529.5 801.7 2528C803.9 2526.5 806.9 2519.6 810 2519C813.1 2518.4 816.1 2524.1 820 2524.7C823.9 2525.2 829.7 2524.9 833.3 2522.3C836.9 2519.7 838.3 2513.2 841.7 2509C845 2504.8 848.6 2500.4 853.3 2497.3C858.1 2494.3 865.6 2494 870 2490.7C874.4 2487.3 876.7 2484 880 2477.3C883.3 2470.7 886.7 2461.2 890 2450.7C893.3 2440.1 896.1 2424 900 2414C903.9 2404 908.9 2396.7 913.3 2390.7C917.8 2384.7 922.2 2380.9 926.7 2378C931.1 2375.1 934.4 2373.7 940 2373.3C945.6 2372.9 953.9 2374.7 960 2375.7C966.1 2376.6 971.1 2378.2 976.7 2379C982.2 2379.8 989.2 2379 993.3 2380.7C997.5 2382.3 999.4 2384.6 1001.7 2389C1003.9 2393.4 1005.3 2399.3 1006.7 2407.3C1008.1 2415.4 1008.6 2429.7 1010 2437.3C1011.4 2445 1012.2 2453.1 1015 2453.3C1017.8 2453.6 1022.5 2443.3 1026.7 2439C1030.8 2434.7 1035 2430.4 1040 2427.3C1045 2424.3 1052.4 2423.2 1056.7 2420.7C1060.9 2418.2 1064.6 2418.4 1065.7 2412.3C1066.8 2406.2 1064.6 2395.4 1063.3 2384C1062.1 2372.6 1060 2354.6 1058.3 2344C1056.7 2333.4 1055.8 2327.1 1053.3 2320.7C1050.8 2314.3 1043.6 2310.1 1043.3 2305.7C1043.1 2301.2 1048.3 2296.8 1051.7 2294C1055 2291.2 1059.7 2289 1063.3 2289C1066.9 2289 1069.4 2291.5 1073.3 2294C1077.2 2296.5 1081.1 2302.3 1086.7 2304C1092.2 2305.7 1100.6 2304.7 1106.7 2304C1112.8 2303.3 1118.3 2300 1123.3 2300C1128.3 2300 1131.4 2303.1 1136.7 2304C1141.9 2304.9 1153.1 2302.9 1155 2305.7C1156.9 2308.4 1149.7 2312.1 1148.3 2320.7C1146.9 2329.3 1149.4 2346.8 1146.7 2357.3C1143.9 2367.9 1135.8 2374 1131.7 2384C1127.5 2394 1125 2406.2 1121.7 2417.3C1118.3 2428.4 1114.4 2442.9 1111.7 2450.7C1108.9 2458.4 1107.2 2460.4 1105 2464C1102.8 2467.6 1098.9 2470.2 1098.3 2472.3C1097.8 2474.4 1099.4 2475.3 1101.7 2476.7C1103.9 2478.1 1107.8 2476.7 1111.7 2480.7C1115.6 2484.7 1120.8 2494.6 1125 2500.7C1129.2 2506.8 1134.2 2512.3 1136.7 2517.3C1139.2 2522.3 1138.6 2526.9 1140 2530.7C1141.4 2534.4 1142.8 2538.9 1145 2540C1147.2 2541.1 1150.3 2539.4 1153.3 2537.3C1156.4 2535.2 1160.3 2532.3 1163.3 2527.3C1166.4 2522.3 1168.3 2514 1171.7 2507.3C1175 2500.7 1179.4 2493 1183.3 2487.3C1187.2 2481.7 1191.9 2475 1195 2473.3C1198.1 2471.7 1198.9 2473.3 1201.7 2477.3C1204.4 2481.3 1208.6 2492.1 1211.7 2497.3C1214.7 2502.6 1217.2 2506.5 1220 2509C1222.8 2511.5 1224.7 2512.6 1228.3 2512.3C1231.9 2512.1 1237.2 2509 1241.7 2507.3C1246.1 2505.7 1250 2503.6 1255 2502.3C1260 2501.1 1266.7 2500 1271.7 2500C1276.7 2500 1281.1 2500 1285 2502.3C1288.9 2504.7 1292.8 2509.3 1295 2514C1297.2 2518.7 1296.9 2524.6 1298.3 2530.7C1299.7 2536.8 1303.1 2544 1303.3 2550.7C1303.6 2557.3 1301.9 2564.6 1300 2570.7C1298.1 2576.8 1294.2 2583.7 1291.7 2587.3C1289.2 2590.9 1288.3 2591.3 1285 2592.3C1281.7 2593.3 1276.1 2591.9 1271.7 2593.3C1267.2 2594.7 1262.2 2597.5 1258.3 2600.7C1254.4 2603.8 1251.9 2609 1248.3 2612.3C1244.7 2615.7 1238.9 2615.9 1236.7 2620.7C1234.4 2625.4 1234.4 2633.4 1235 2640.7C1235.6 2647.9 1237.5 2657.1 1240 2664C1242.5 2670.9 1247.5 2676.8 1250 2682.3C1252.5 2687.9 1254.1 2693.2 1255 2697.3C1255.9 2701.5 1257.9 2706.2 1255.7 2707.3C1253.4 2708.4 1246.5 2705 1241.7 2704C1236.8 2703 1231.7 2700.5 1226.7 2701.3C1221.7 2702.2 1215.8 2706.2 1211.7 2709C1207.5 2711.8 1204.7 2717.2 1201.7 2718C1198.6 2718.8 1196.4 2716.9 1193.3 2714C1190.3 2711.1 1186.4 2703.7 1183.3 2700.7C1180.3 2697.6 1179.4 2695.2 1175 2695.7C1170.6 2696.1 1160 2701.1 1156.7 2703.3C1153.3 2705.6 1153.6 2706.8 1155 2709C1156.4 2711.2 1164.4 2713.6 1165 2716.7C1165.6 2719.7 1161.9 2723.4 1158.3 2727.3C1154.7 2731.2 1148.3 2738.3 1143.3 2740C1138.3 2741.7 1133.6 2739.7 1128.3 2737.3C1123.1 2734.9 1117.2 2726.5 1111.7 2725.7C1106.1 2724.8 1100.8 2731.2 1095 2732.3C1089.2 2733.4 1083.6 2732.1 1076.7 2732.3C1069.7 2732.6 1060.6 2733.2 1053.3 2734C1046.1 2734.8 1040 2735.9 1033.3 2737.3C1026.7 2738.7 1017.8 2740.7 1013.3 2742.3C1008.9 2744 1010 2746.2 1006.7 2747.3C1003.3 2748.4 998.3 2749 993.3 2749C988.3 2749 982.2 2747.1 976.7 2747.3C971.1 2747.6 965 2750.7 960 2750.7C955 2750.7 951.1 2749.3 946.7 2747.3C942.2 2745.4 937.8 2741.7 933.3 2739C928.9 2736.3 924.4 2732.7 920 2731.3C915.6 2729.9 911.1 2730.2 906.7 2730.7C902.2 2731.1 898.3 2732.4 893.3 2734C888.3 2735.6 882.2 2738.6 876.7 2740C871.1 2741.4 863.6 2742.5 860 2742.3C856.4 2742.2 855.7 2740.9 855 2739C854.3 2737.1 856 2734.3 856 2730.7C856 2727.1 856.6 2720.4 855 2717.3C853.4 2714.3 849.7 2714 846.7 2712.3C843.6 2710.7 840.6 2707.1 836.7 2707.3C832.8 2707.6 826.7 2711.2 823.3 2714C820 2716.8 819.4 2720.7 816.7 2724C813.9 2727.3 809.4 2732.9 806.7 2734C803.9 2735.1 801.4 2733.4 800 2730.7C798.6 2727.9 797.5 2721.8 798.3 2717.3C799.2 2712.9 801.9 2706.5 805 2704C808.1 2701.5 812.8 2703.7 816.7 2702.3C820.6 2700.9 826.7 2699.3 828.3 2695.7C830 2692.1 829.2 2685.1 826.7 2680.7C824.2 2676.2 817.8 2673.2 813.3 2669C808.9 2664.8 804.4 2660.4 800 2655.7C795.6 2650.9 791.1 2645.4 786.7 2640.7C782.2 2635.9 777.8 2632.1 773.3 2627.3C768.9 2622.6 763.9 2616.2 760 2612.3C756.1 2608.4 753.9 2607.6 750 2604C746.1 2600.4 741.1 2594.8 736.7 2590.7C732.2 2586.5 727.2 2582.9 723.3 2579C719.4 2575.1 716.7 2570.7 713.3 2567.3C710 2564 707.2 2560.9 703.3 2559C699.4 2557.1 693.9 2557.6 690 2555.7C686.1 2553.7 683.3 2550.1 680 2547.3C676.7 2544.6 673.3 2540.2 670 2539C666.7 2537.8 662.8 2539.3 660 2540C657.2 2540.7 656.7 2543.5 653.3 2543.3C650 2543.2 644.2 2540.6 640 2539C635.8 2537.4 632.2 2533.4 628.3 2534C624.4 2534.6 620.6 2539.6 616.7 2542.3C612.8 2545.1 606.8 2544.8 605 2550.7C603.2 2556.5 606.5 2570.1 605.7 2577.3C604.8 2584.6 602.6 2590.1 600 2594C597.4 2597.9 590.6 2595.9 590 2600.7C589.4 2605.4 593.3 2616.2 596.7 2622.3C600 2628.4 606.1 2633.7 610 2637.3C613.9 2640.9 616.1 2640.1 620 2644C623.9 2647.9 628.9 2656.5 633.3 2660.7C637.8 2664.8 642.2 2667.1 646.7 2669C651.1 2670.9 655.6 2669.6 660 2672.3C664.4 2675.1 668.3 2681.9 673.3 2685.7C678.3 2689.4 685 2693 690 2694.7C695 2696.3 698.3 2694.2 703.3 2695.7C708.3 2697.1 714.4 2701.9 720 2703.3C725.6 2704.7 731.1 2703.4 736.7 2704C742.2 2704.6 749.4 2703.9 753.3 2706.7C757.2 2709.4 759.4 2716.4 760 2720.7C760.6 2724.9 759.4 2728.8 756.7 2732.3C753.9 2735.8 747.8 2740.6 743.3 2741.7C738.9 2742.8 735 2741.7 730 2739C725 2736.3 717.2 2728.2 713.3 2725.7C709.4 2723.2 708.9 2723.2 706.7 2724C704.4 2724.8 702.2 2728.2 700 2730.7C697.8 2733.2 696.7 2737.3 693.3 2739C690 2740.7 683.9 2739.6 680 2740.7C676.1 2741.8 672.2 2743.4 670 2745.7C667.8 2747.9 667.1 2750.9 666.7 2754C666.2 2757.1 667.2 2759 667.3 2764C667.4 2769 725.8 2780.7 667.3 2784C608.9 2787.3 375.1 2787.3 316.7 2784C258.2 2780.7 316.7 2768.4 316.7 2764C316.7 2759.6 319.4 2759 316.7 2757.3C313.9 2755.7 304.2 2756.2 300 2754C295.8 2751.8 293.3 2747.2 291.7 2744C290 2740.8 293.6 2736.8 290 2734.7C286.4 2732.6 275.3 2732.7 270 2731.3C264.7 2730 262.5 2725.4 258.3 2726.7C254.2 2727.9 249.2 2736.1 245 2739C240.8 2741.9 238.1 2743.2 233.3 2744C228.6 2744.8 223.3 2744 216.7 2744C210 2744 197.2 2752.2 193.3 2744C189.4 2735.8 189.4 2702.9 193.3 2694.7C197.2 2686.4 210 2695.1 216.7 2694.7C223.3 2694.3 227.8 2692.6 233.3 2692.3C238.9 2692.1 244.4 2694.7 250 2693.3C255.6 2691.9 263.2 2688.1 266.7 2684C270.1 2679.9 271.2 2672.9 270.7 2669C270.1 2665.1 265.7 2663.7 263.3 2660.7C261 2657.6 260 2653.2 256.7 2650.7C253.3 2648.2 247.2 2645.9 243.3 2645.7C239.4 2645.4 237.8 2648.2 233.3 2649C228.9 2649.8 223.3 2650.4 216.7 2650.7C210 2650.9 197.2 2663.6 193.3 2650.7C189.4 2637.8 189.4 2586.2 193.3 2573.3C197.2 2560.4 211.1 2573.8 216.7 2573.3C222.2 2572.9 223.3 2571.6 226.7 2570.7C230 2569.8 233.6 2568 236.7 2568C239.7 2568 242.2 2568.9 245 2570.7C247.8 2572.4 251 2578.3 253.3 2578.7C255.7 2579.1 257.7 2576.1 259 2573C260.3 2569.9 260.4 2564.2 261.3 2560.3C262.2 2556.4 263 2553.3 264.3 2549.7C265.7 2546 268 2542.6 269.3 2538.3C270.7 2534.1 271.4 2524 272.3 2524.3C273.2 2524.7 274.1 2535.8 274.7 2540.3C275.3 2544.9 275.9 2546 276 2551.7C276.1 2557.3 275.1 2569 275 2574.3C274.9 2579.7 275.3 2579.7 275.7 2583.7C276 2587.6 276.2 2594.4 277 2598C277.8 2601.6 279.3 2603.7 280.3 2605.3C281.3 2606.9 280.8 2607 283 2607.7C285.2 2608.3 290.3 2608.2 293.3 2609.3C296.3 2610.4 298.9 2613.4 301 2614.3C303.1 2615.2 303 2615.2 305.7 2614.7C308.3 2614.1 312.3 2613.2 317 2611C321.7 2608.8 331.8 2604.1 334 2601.7C336.2 2599.2 331.4 2599.9 330.3 2596.3C329.2 2592.7 329.1 2584.1 327.3 2580C325.6 2575.9 323.1 2574.1 320 2572C316.9 2569.9 311.8 2568.8 308.7 2567.7C305.5 2566.6 303.2 2568.3 301 2565.3C298.8 2562.3 298.5 2556.2 295.3 2549.7C292.2 2543.1 285 2529.8 282 2526C279 2522.2 278.2 2527.6 277.3 2527C276.5 2526.4 277.1 2523.9 277 2522.3C276.9 2520.7 274.5 2520.1 276.7 2517.3C278.8 2514.6 286.1 2510.1 290 2505.7C293.9 2501.2 297.5 2495.4 300 2490.7C302.5 2485.9 303.3 2482.9 305 2477.3C306.7 2471.8 308.1 2462.6 310 2457.3C311.9 2452.1 312.8 2449.6 316.7 2445.7C320.6 2441.8 327.8 2437.6 333.3 2434C338.9 2430.4 345 2427.9 350 2424C355 2420.1 360.6 2414.8 363.3 2410.7C366.1 2406.5 365.3 2401.8 366.7 2399C368.1 2396.2 370 2393.7 371.7 2394C373.3 2394.3 375.3 2397.6 376.7 2400.7C378.1 2403.7 378.1 2410.4 380 2412.3C381.9 2414.3 386.7 2413.7 388.3 2412.3C390 2410.9 389.1 2409.3 390 2404C390.9 2398.7 392.6 2387.1 394 2380.7C395.4 2374.3 396.2 2369.8 398.3 2365.7C400.4 2361.5 403.1 2360.1 406.7 2355.7C410.3 2351.2 415 2343.7 420 2339C425 2334.3 431.1 2331.7 436.7 2327.3C442.2 2323 448.3 2316.6 453.3 2313C458.3 2309.4 462.2 2308.5 466.7 2305.7C471.2 2302.8 477 2298.8 480.3 2296C483.7 2293.2 483.3 2292.4 486.7 2289C490 2285.6 495.9 2279.4 500.3 2275.7C504.8 2271.9 508.3 2270.1 513.3 2266.7C518.4 2263.3 524.4 2259.2 530.7 2255.3C536.9 2251.5 545.1 2247.9 551 2243.7C556.9 2239.4 563 2233 566 2230C569 2227 567.7 2227.2 569 2225.7C570.3 2224.1 569.4 2224.3 574 2220.7C578.6 2217.1 558.4 2206.8 596.7 2204C634.9 2201.2 771.1 2201.2 803.3 2204Z" fill="#D9ECFF"/>
<path d="M193.3 2387.3C197.2 2371.3 208.9 2389.9 216.7 2388C224.4 2386.1 233.9 2378 240 2375.7C246.1 2373.3 248.9 2372.1 253.3 2374C257.8 2375.9 263.3 2380.9 266.7 2387.3C270 2393.7 273.1 2404.6 273.3 2412.3C273.6 2420.1 271.7 2429.6 268.3 2434C265 2438.4 257.2 2436.8 253.3 2439C249.4 2441.2 247.2 2443.2 245 2447.3C242.8 2451.5 241.7 2458.4 240 2464C238.3 2469.6 236.7 2476.5 235 2480.7C233.3 2484.8 233.1 2488.3 230 2489C226.9 2489.7 222.8 2485.5 216.7 2484.7C210.6 2483.8 197.2 2500.2 193.3 2484C189.4 2467.8 189.4 2403.3 193.3 2387.3Z" fill="#D9ECFF"/>
<path d="M1219 2411.7C1218.4 2409 1224.6 2403.6 1228.3 2399C1232.1 2394.4 1237.5 2388 1241.7 2384C1245.8 2380 1250 2375.8 1253.3 2375C1256.7 2374.2 1259.4 2376.4 1261.7 2379C1263.9 2381.6 1265.2 2385.1 1266.7 2390.7C1268.2 2396.2 1271.2 2407.1 1270.7 2412.3C1270.1 2417.6 1265.9 2420.2 1263.3 2422.3C1260.7 2424.4 1258.6 2425.6 1255 2425C1251.4 2424.4 1245.6 2420.7 1241.7 2419C1237.8 2417.3 1235.4 2416.2 1231.7 2415C1227.9 2413.8 1219.6 2414.3 1219 2411.7Z" fill="#D9ECFF"/>
<path d="M1335 2472.3C1334.7 2467.1 1338.3 2458.2 1340 2450.7C1341.7 2443.2 1343.1 2432.9 1345 2427.3C1346.9 2421.8 1349.2 2419.6 1351.7 2417.3C1354.2 2415.1 1357.5 2413.2 1360 2414C1362.5 2414.8 1365 2417.9 1366.7 2422.3C1368.3 2426.8 1368.7 2432.3 1370 2440.7C1371.3 2449 1374.3 2464.6 1374.3 2472.3C1374.3 2480.1 1371.8 2484.1 1370 2487.3C1368.2 2490.6 1366.4 2491.4 1363.3 2491.7C1360.3 2491.9 1355.3 2490.6 1351.7 2489C1348.1 2487.4 1344.4 2485.1 1341.7 2482.3C1338.9 2479.6 1335.3 2477.6 1335 2472.3Z" fill="#D9ECFF"/>
<path d="M1481.7 2412.3C1480.8 2411.2 1484.7 2407.9 1486.7 2406.7C1488.6 2405.4 1491.1 2404.6 1493.3 2404.7C1495.6 2404.8 1498.5 2406.1 1500 2407.3C1501.5 2408.6 1503.7 2411.3 1502.3 2412.3C1500.9 2413.3 1495.1 2413.3 1491.7 2413.3C1488.2 2413.3 1482.5 2413.4 1481.7 2412.3Z" fill="#D9ECFF"/>
<path d="M1326.7 2639C1325.7 2633.2 1325.4 2615.4 1326 2607.3C1326.6 2599.3 1328.2 2595.7 1330 2590.7C1331.8 2585.7 1333.1 2580.4 1336.7 2577.3C1340.3 2574.3 1347.2 2573.6 1351.7 2572.3C1356.1 2571.1 1360.3 2569.5 1363.3 2569.7C1366.4 2569.8 1368.3 2571.8 1370 2573.3C1371.7 2574.9 1373.9 2574.4 1373.3 2579C1372.8 2583.6 1369.2 2593.7 1366.7 2600.7C1364.2 2607.6 1361.4 2615.4 1358.3 2620.7C1355.3 2625.9 1351.7 2628.4 1348.3 2632.3C1345 2636.2 1341.1 2642.3 1338.3 2644C1335.6 2645.7 1333.6 2643.2 1331.7 2642.3C1329.7 2641.5 1327.6 2644.8 1326.7 2639Z" fill="#D9ECFF"/>
<path d="M1615 2572.7C1611.1 2559.9 1598.9 2572.7 1591.7 2572.7C1584.4 2572.6 1576.7 2571.6 1571.7 2572.3C1566.7 2573.1 1564.4 2574.8 1561.7 2577.3C1558.9 2579.8 1558.3 2586.1 1555 2587.3C1551.7 2588.6 1547.2 2585.8 1541.7 2584.7C1536.1 2583.6 1530 2581.8 1521.7 2580.7C1513.3 2579.6 1498.9 2575.8 1491.7 2578C1484.4 2580.2 1483.3 2588.6 1478.3 2594C1473.3 2599.4 1466.1 2605.9 1461.7 2610.7C1457.2 2615.4 1453.9 2618.2 1451.7 2622.3C1449.4 2626.5 1451.1 2632.9 1448.3 2635.7C1445.6 2638.4 1438.3 2636.5 1435 2639C1431.7 2641.5 1430.3 2645.4 1428.3 2650.7C1426.4 2655.9 1423.3 2664.6 1423.3 2670.7C1423.3 2676.8 1425.8 2684.3 1428.3 2687.3C1430.8 2690.4 1434.4 2691.2 1438.3 2689C1442.2 2686.8 1448.3 2679.8 1451.7 2674C1455 2668.2 1457.8 2659.8 1458.3 2654C1458.9 2648.2 1454.4 2642.2 1455 2639C1455.6 2635.8 1457.8 2634.9 1461.7 2634.7C1465.6 2634.4 1471.7 2636.6 1478.3 2637.3C1485 2638.1 1494.4 2637.3 1501.7 2639C1508.9 2640.7 1514.4 2644.9 1521.7 2647.3C1528.9 2649.7 1537.2 2652.8 1545 2653.3C1552.8 2653.9 1560.6 2651.3 1568.3 2650.7C1576.1 2650 1583.9 2649.6 1591.7 2649.3C1599.4 2649.1 1611.1 2662.1 1615 2649.3C1618.9 2636.6 1618.9 2585.4 1615 2572.7Z" fill="#D9ECFF"/>
<path d="M1615 2700C1611.1 2693.5 1601.7 2700.4 1591.7 2700C1581.7 2699.6 1565 2696.7 1555 2697.3C1545 2698 1536.7 2699 1531.7 2704C1526.7 2709 1525.6 2721.8 1525 2727.3C1524.4 2732.9 1525.6 2736.8 1528.3 2737.3C1531.1 2737.9 1537.2 2732.3 1541.7 2730.7C1546.1 2729 1550 2727.1 1555 2727.3C1560 2727.6 1565.6 2730.6 1571.7 2732.3C1577.8 2734.1 1584.4 2736.9 1591.7 2738C1598.9 2739.1 1611.1 2745.3 1615 2739C1618.9 2732.7 1618.9 2706.5 1615 2700Z" fill="#D9ECFF"/>
<path d="M1272.7 2684C1273.8 2681.8 1279.8 2681.4 1281.7 2683.3C1283.6 2685.3 1284.3 2693.1 1284 2695.7C1283.7 2698.3 1281.5 2698.8 1280 2699C1278.5 2699.2 1276.2 2699.2 1275 2696.7C1273.8 2694.2 1271.6 2686.2 1272.7 2684Z" fill="#D9ECFF"/>
<path d="M1335 2707.3C1336.1 2702.9 1340.6 2694.8 1343.3 2690.7C1346.1 2686.5 1348.6 2683.4 1351.7 2682.3C1354.7 2681.2 1357.2 2684.4 1361.7 2684C1366.1 2683.6 1372.5 2680.1 1378.3 2680C1384.2 2679.9 1393.9 2680.4 1396.7 2683.3C1399.4 2686.2 1396.9 2693.6 1395 2697.3C1393.1 2701.1 1388.9 2703.7 1385 2705.7C1381.1 2707.6 1376.1 2707.3 1371.7 2709C1367.2 2710.7 1360.8 2713.2 1358.3 2715.7C1355.8 2718.2 1356.1 2720.9 1356.7 2724C1357.2 2727.1 1360.4 2730.4 1361.7 2734C1362.9 2737.6 1364.9 2743 1364.3 2745.7C1363.8 2748.3 1361 2750.3 1358.3 2750C1355.7 2749.7 1351.1 2747.8 1348.3 2744C1345.6 2740.2 1343.6 2731.8 1341.7 2727.3C1339.7 2722.9 1337.8 2720.7 1336.7 2717.3C1335.6 2714 1333.9 2711.8 1335 2707.3Z" fill="#D9ECFF"/>
<path d="M1297.3 2762.3C1293.7 2759.3 1297.6 2749.2 1298.3 2744C1299.1 2738.8 1300.3 2732.4 1301.7 2731.3C1303.1 2730.2 1304.4 2736.8 1306.7 2737.3C1308.9 2737.9 1313.1 2733.6 1315 2734.7C1316.9 2735.8 1317.5 2739.4 1318.3 2744C1319.2 2748.6 1323.5 2759.3 1320 2762.3C1316.5 2765.4 1300.9 2765.4 1297.3 2762.3Z" fill="#D9ECFF"/>
<path d="M1378.3 2762.3C1363.6 2758.6 1377.2 2742.8 1380 2740C1382.8 2737.2 1390.3 2744.4 1395 2745.7C1399.7 2746.9 1403.3 2748.2 1408.3 2747.3C1413.3 2746.5 1420 2741.2 1425 2740.7C1430 2740.1 1433.3 2742.1 1438.3 2744C1443.3 2745.9 1450.6 2750.9 1455 2752.3C1459.4 2753.7 1462.8 2750.7 1465 2752.3C1467.2 2754 1482.8 2760.7 1468.3 2762.3C1453.9 2764 1393.1 2766.1 1378.3 2762.3Z" fill="#D9ECFF"/>
<path d="M795 2762.3C792.8 2760.5 800.6 2753 803.3 2751.3C806.1 2749.7 809.4 2750.5 811.7 2752.3C813.9 2754.2 819.4 2760.7 816.7 2762.3C813.9 2764 797.2 2764.2 795 2762.3Z" fill="#D9ECFF"/>
<path d="M253.3 2578.7C255.2 2577.7 256.4 2586.5 257.7 2590.3C258.9 2594.2 260.6 2596.5 261 2601.7C261.4 2606.8 260.7 2617.1 260 2621.3C259.3 2625.6 258.1 2625.3 257 2627C255.9 2628.7 255.6 2630.8 253.3 2631.7C251.1 2632.5 246 2633.6 243.3 2632C240.7 2630.4 237.9 2625.4 237.3 2622C236.7 2618.6 238.2 2616 239.7 2611.7C241.2 2607.3 244.1 2601.5 246.3 2596C248.6 2590.5 251.4 2579.6 253.3 2578.7Z" fill="#FFECD9"/>
<path d="M218.3 2599C219.7 2598.4 226.7 2601.2 226.7 2602.3C226.7 2603.4 219.7 2606.2 218.3 2605.7C216.9 2605.1 216.9 2599.6 218.3 2599Z" fill="#FFECD9"/>
<path d="M273.3 2655.7C273.9 2652.8 282.5 2649.6 286.7 2647.3C290.8 2645.1 294.4 2640.9 298.3 2642.3C302.2 2643.7 310 2650.9 310 2655.7C310 2660.4 302.8 2669.2 298.3 2670.7C293.9 2672.2 287.5 2667.2 283.3 2664.7C279.2 2662.2 272.8 2658.6 273.3 2655.7Z" fill="#FFECD9"/>
<path d="M301.7 2735.7C303.3 2733.6 310 2729.8 313.3 2729C316.7 2728.2 320.1 2729.3 321.7 2730.7C323.2 2732.1 324.1 2735.2 322.7 2737.3C321.3 2739.4 316.6 2742.7 313.3 2743.3C310.1 2744 305.3 2742.6 303.3 2741.3C301.4 2740.1 300 2737.7 301.7 2735.7Z" fill="#FFECD9"/>
<path d="M401.7 2762.3C394.2 2760.1 406.9 2752.1 410 2749C413.1 2745.9 415.6 2744.6 420 2744C424.4 2743.4 431.7 2744.3 436.7 2745.7C441.7 2747.1 446.9 2749.6 450 2752.3C453.1 2755.1 463.1 2760.7 455 2762.3C446.9 2764 409.2 2764.6 401.7 2762.3Z" fill="#FFECD9"/>
<path d="M608.3 2752.3C610 2750.9 614.2 2752.3 616.7 2754C619.2 2755.7 625 2760.9 623.3 2762.3C621.7 2763.7 609.2 2764 606.7 2762.3C604.2 2760.7 606.7 2753.7 608.3 2752.3Z" fill="#FFECD9"/>
<path d="M475.7 2472.3C476.2 2468.9 482.1 2467.5 486.7 2466.7C491.3 2465.8 497.8 2468.6 503.3 2467.3C508.9 2466.1 515 2461.6 520 2459C525 2456.4 527.8 2453.3 533.3 2451.7C538.9 2450 547.8 2448.6 553.3 2449C558.9 2449.4 562.2 2450.1 566.7 2454C571.1 2457.9 577.5 2466.8 580 2472.3C582.5 2477.9 580.6 2481.5 581.7 2487.3C582.8 2493.2 584.2 2503.7 586.7 2507.3C589.2 2510.9 594.3 2507.3 596.7 2509C599 2510.7 600.7 2512.7 600.7 2517.3C600.7 2521.9 599 2534.2 596.7 2536.7C594.3 2539.2 590 2531.4 586.7 2532.3C583.3 2533.3 580.3 2539.6 576.7 2542.3C573.1 2545.1 568.9 2548.4 565 2549C561.1 2549.6 556.4 2548.2 553.3 2545.7C550.3 2543.2 548.6 2538.7 546.7 2534C544.7 2529.3 545 2522.3 541.7 2517.3C538.3 2512.3 531.9 2507.9 526.7 2504C521.4 2500.1 515.6 2495.9 510 2494C504.4 2492.1 497.8 2493.4 493.3 2492.3C488.9 2491.2 486.3 2490.7 483.3 2487.3C480.4 2484 475.1 2475.8 475.7 2472.3Z" fill="#FFECD9"/>
<path d="M843.3 2601.3C843.3 2599.3 850.1 2595.6 853.3 2595.7C856.6 2595.7 862.7 2599.6 862.7 2601.7C862.7 2603.7 856.6 2608.1 853.3 2608C850.1 2607.9 843.3 2603.4 843.3 2601.3Z" fill="#FFECD9"/>
<path d="M962.7 2602.3C962.7 2596.5 965.4 2591.2 968.3 2587.3C971.2 2583.4 973.6 2581.2 980 2579C986.4 2576.8 998.9 2574.3 1006.7 2574C1014.4 2573.7 1021.7 2574.6 1026.7 2577.3C1031.7 2580.1 1032.7 2586.8 1036.7 2590.7C1040.7 2594.6 1048.3 2595.4 1050.7 2600.7C1053 2605.9 1054.7 2617.3 1050.7 2622.3C1046.7 2627.3 1036.2 2628 1026.7 2630.7C1017.1 2633.3 1001.1 2637.8 993.3 2638.3C985.6 2638.9 984.2 2636.7 980 2634C975.8 2631.3 971.2 2627.6 968.3 2622.3C965.4 2617.1 962.7 2608.2 962.7 2602.3Z" fill="#FFECD9"/>
<path d="M1073.3 2620.7C1074.2 2618.2 1079.4 2612.8 1081.7 2610.7C1083.9 2608.6 1085.2 2606.3 1086.7 2608C1088.2 2609.7 1091.2 2617.2 1090.7 2620.7C1090.1 2624.2 1085.7 2628.2 1083.3 2629C1081 2629.8 1078.3 2627.1 1076.7 2625.7C1075 2624.3 1072.5 2623.2 1073.3 2620.7Z" fill="#FFECD9"/>
<path d="M1416.7 2472.3C1416.7 2468.2 1420.8 2466.5 1425 2464C1429.2 2461.5 1436.1 2457.6 1441.7 2457.3C1447.2 2457.1 1454 2459.8 1458.3 2462.3C1462.7 2464.8 1466.8 2467.6 1467.7 2472.3C1468.5 2477.1 1465.4 2485.9 1463.3 2490.7C1461.2 2495.4 1458.1 2498.3 1455 2500.7C1451.9 2503.1 1448.3 2505 1445 2505C1441.7 2505 1438.3 2503.3 1435 2500.7C1431.7 2498 1428.1 2493.7 1425 2489C1421.9 2484.3 1416.7 2476.5 1416.7 2472.3Z" fill="#FFCCB2"/>
<path d="M816 2411.3C816 2410.5 820.9 2409 823.3 2409C825.8 2409 830.7 2410.5 830.7 2411.3C830.7 2412.2 825.8 2414 823.3 2414C820.9 2414 816 2412.2 816 2411.3Z" fill="#FFCCB2"/>
<path d="M367.3 2472.3C368.9 2468.6 375.7 2466.4 380 2464.7C384.3 2462.9 388.9 2461.7 393.3 2461.7C397.8 2461.7 402.9 2462.9 406.7 2464.7C410.4 2466.4 415.7 2468.3 415.7 2472.3C415.7 2476.4 410.4 2483.2 406.7 2489C402.9 2494.8 396.9 2503.8 393.3 2507.3C389.7 2510.8 387.8 2511.1 385 2510C382.2 2508.9 379.1 2504.4 376.7 2500.7C374.3 2496.9 372.2 2492.1 370.7 2487.3C369.1 2482.6 365.8 2476.1 367.3 2472.3Z" fill="#B2CDFF"/>
<path d="M258.3 2760.7L258.3 2757.3L268.3 2757.3L268.3 2753.3L315 2753.3L315 2749L325 2749L325 2744.7L353.3 2744.7L353.3 2749L363.3 2749L363.3 2753.3L373.3 2753.3L373.3 2757.3L378.3 2757.3L378.3 2760.7Z" fill="#000"/>
<path d="M600 2760.7L600 2757.3L610 2757.3L610 2760.7Z" fill="#000"/>
<path d="M646.7 2760.7L646.7 2758L668.3 2758L668.3 2756.7L676.7 2756.7L676.7 2760.7Z" fill="#000"/>
<path d="M1296.7 2760.7L1296.7 2753.3L1305.7 2753.3L1305.7 2757.3L1396.7 2757.3L1396.7 2760.7Z" fill="#000"/>
<path d="M1286.7 2760.7L1286.7 2757.7L1296.7 2757.7L1296.7 2760.7Z" fill="#000"/>
</g>
<rect x="220.2" y="2228.9" width="1367.1" height="532.2" fill="none" stroke="#000" stroke-width="4.3" stroke-linejoin="round"/>
<line x1="189" x2="219" y1="2228.9" y2="2228.9" class="tk"/>
<text transform="translate(164.5 2242.1) scale(1 1.1)" class="tl" text-anchor="end">30</text>
<line x1="189" x2="219" y1="2306.4" y2="2306.4" class="tk"/>
<text transform="translate(164.5 2319.6) scale(1 1.1)" class="tl" text-anchor="end">50</text>
<line x1="189" x2="219" y1="2357.5" y2="2357.5" class="tk"/>
<text transform="translate(164.5 2370.7) scale(1 1.1)" class="tl" text-anchor="end">70</text>
<line x1="189" x2="219" y1="2411.6" y2="2411.6" class="tk"/>
<text transform="translate(164.5 2424.8) scale(1 1.1)" class="tl" text-anchor="end">100</text>
<line x1="189" x2="219" y1="2473.2" y2="2473.2" class="tk"/>
<text transform="translate(164.5 2486.4) scale(1 1.1)" class="tl" text-anchor="end">150</text>
<line x1="189" x2="219" y1="2516.8" y2="2516.8" class="tk"/>
<text transform="translate(164.5 2530) scale(1 1.1)" class="tl" text-anchor="end">200</text>
<line x1="189" x2="219" y1="2550.7" y2="2550.7" class="tk"/>
<text transform="translate(164.5 2563.9) scale(1 1.1)" class="tl" text-anchor="end">250</text>
<line x1="189" x2="219" y1="2578.4" y2="2578.4" class="tk"/>
<text transform="translate(164.5 2591.6) scale(1 1.1)" class="tl" text-anchor="end">300</text>
<line x1="189" x2="219" y1="2622" y2="2622" class="tk"/>
<text transform="translate(164.5 2635.2) scale(1 1.1)" class="tl" text-anchor="end">400</text>
<line x1="189" x2="219" y1="2655.9" y2="2655.9" class="tk"/>
<text transform="translate(164.5 2669.1) scale(1 1.1)" class="tl" text-anchor="end">500</text>
<line x1="189" x2="219" y1="2707" y2="2707" class="tk"/>
<text transform="translate(164.5 2720.2) scale(1 1.1)" class="tl" text-anchor="end">700</text>
<line x1="189" x2="219" y1="2736.4" y2="2736.4" class="tk"/>
<text transform="translate(164.5 2749.6) scale(1 1.1)" class="tl" text-anchor="end">850</text>
<line x1="189" x2="219" y1="2761.1" y2="2761.1" class="tk"/>
<text transform="translate(164.5 2774.3) scale(1 1.1)" class="tl" text-anchor="end">1000</text>
<line x1="1588" x2="1618.5" y1="2321.4" y2="2321.4" class="tk"/>
<text transform="translate(1643 2334.6) scale(1 1.1)" class="tl">20</text>
<line x1="1588" x2="1618.5" y1="2417" y2="2417" class="tk"/>
<text transform="translate(1643 2430.2) scale(1 1.1)" class="tl">16</text>
<line x1="1588" x2="1618.5" y1="2512.4" y2="2512.4" class="tk"/>
<text transform="translate(1643 2525.6) scale(1 1.1)" class="tl">12</text>
<line x1="1588" x2="1618.5" y1="2604.2" y2="2604.2" class="tk"/>
<text transform="translate(1643 2617.4) scale(1 1.1)" class="tl">8</text>
<line x1="1588" x2="1618.5" y1="2687.6" y2="2687.6" class="tk"/>
<text transform="translate(1643 2700.8) scale(1 1.1)" class="tl">4</text>
<line x1="220.2" x2="220.2" y1="2197.5" y2="2228.9" class="tk"/>
<line x1="220.2" x2="220.2" y1="2761.1" y2="2791.4" class="tk"/>
<line x1="334.4" x2="334.4" y1="2212" y2="2228.9" class="tm"/>
<line x1="334.4" x2="334.4" y1="2761.1" y2="2777" class="tm"/>
<line x1="448.8" x2="448.8" y1="2197.5" y2="2228.9" class="tk"/>
<line x1="448.8" x2="448.8" y1="2761.1" y2="2791.4" class="tk"/>
<line x1="563" x2="563" y1="2212" y2="2228.9" class="tm"/>
<line x1="563" x2="563" y1="2761.1" y2="2777" class="tm"/>
<line x1="677.4" x2="677.4" y1="2197.5" y2="2228.9" class="tk"/>
<line x1="677.4" x2="677.4" y1="2761.1" y2="2791.4" class="tk"/>
<line x1="791.6" x2="791.6" y1="2212" y2="2228.9" class="tm"/>
<line x1="791.6" x2="791.6" y1="2761.1" y2="2777" class="tm"/>
<line x1="905.9" x2="905.9" y1="2197.5" y2="2228.9" class="tk"/>
<line x1="905.9" x2="905.9" y1="2761.1" y2="2791.4" class="tk"/>
<line x1="1020.2" x2="1020.2" y1="2212" y2="2228.9" class="tm"/>
<line x1="1020.2" x2="1020.2" y1="2761.1" y2="2777" class="tm"/>
<line x1="1134.5" x2="1134.5" y1="2197.5" y2="2228.9" class="tk"/>
<line x1="1134.5" x2="1134.5" y1="2761.1" y2="2791.4" class="tk"/>
<line x1="1248.9" x2="1248.9" y1="2212" y2="2228.9" class="tm"/>
<line x1="1248.9" x2="1248.9" y1="2761.1" y2="2777" class="tm"/>
<line x1="1363.2" x2="1363.2" y1="2197.5" y2="2228.9" class="tk"/>
<line x1="1363.2" x2="1363.2" y1="2761.1" y2="2791.4" class="tk"/>
<line x1="1477.5" x2="1477.5" y1="2212" y2="2228.9" class="tm"/>
<line x1="1477.5" x2="1477.5" y1="2761.1" y2="2777" class="tm"/>
<text transform="translate(219.6 2844.2) scale(1 1.1)" class="tl" text-anchor="middle">0</text>
<text transform="translate(448.1 2844.2) scale(1 1.1)" class="tl" text-anchor="middle">60E</text>
<text transform="translate(676.8 2844.2) scale(1 1.1)" class="tl" text-anchor="middle">120E</text>
<text transform="translate(905.3 2844.2) scale(1 1.1)" class="tl" text-anchor="middle">180</text>
<text transform="translate(1134 2844.2) scale(1 1.1)" class="tl" text-anchor="middle">120W</text>
<text transform="translate(1362.6 2844.2) scale(1 1.1)" class="tl" text-anchor="middle">60W</text>
<text transform="translate(904.7 2109.8)" class="st" text-anchor="middle">f09.B-2xCO2.cfmip.cf40 - f09.B-2xCO2.cfmip.cf40</text>
<text transform="translate(220.2 2184) scale(1 1.03)" class="lt">Transient eddy KE</text>
<text x="1588.6" y="2192.6" class="lt" text-anchor="end">m<tspan dy="-20.6" font-size="26.5">2</tspan><tspan dy="20.6">/s</tspan><tspan dy="-20.6" font-size="26.5">2</tspan></text>
<text transform="translate(44.6 2495) rotate(-90) scale(1 1.068)" class="at" text-anchor="middle">Pressure (mb)</text>
<text transform="translate(1761 2495) rotate(-90) scale(1 1.068)" class="at" text-anchor="middle">Height (km)</text>
<text transform="translate(720.3 2875.4) scale(1 1.066)" class="mm" xml:space="preserve">MIN =  -6.30  MAX =   6.61</text>
<rect x="228.3" y="2909.4" width="84.4" height="21.8" fill="#00008B" stroke="#000" stroke-width="2.1"/>
<rect x="312.7" y="2909.4" width="84.4" height="21.8" fill="#001FBA" stroke="#000" stroke-width="2.1"/>
<rect x="397.1" y="2909.4" width="84.4" height="21.8" fill="#0033E1" stroke="#000" stroke-width="2.1"/>
<rect x="481.6" y="2909.4" width="84.4" height="21.8" fill="#1A52FF" stroke="#000" stroke-width="2.1"/>
<rect x="566" y="2909.4" width="84.4" height="21.8" fill="#4278FF" stroke="#000" stroke-width="2.1"/>
<rect x="650.4" y="2909.4" width="84.4" height="21.8" fill="#85AAFF" stroke="#000" stroke-width="2.1"/>
<rect x="734.8" y="2909.4" width="84.4" height="21.8" fill="#B2CDFF" stroke="#000" stroke-width="2.1"/>
<rect x="819.2" y="2909.4" width="84.4" height="21.8" fill="#D9ECFF" stroke="#000" stroke-width="2.1"/>
<rect x="903.7" y="2909.4" width="84.4" height="21.8" fill="#FFECD9" stroke="#000" stroke-width="2.1"/>
<rect x="988.1" y="2909.4" width="84.4" height="21.8" fill="#FFCCB2" stroke="#000" stroke-width="2.1"/>
<rect x="1072.5" y="2909.4" width="84.4" height="21.8" fill="#FFAA85" stroke="#000" stroke-width="2.1"/>
<rect x="1156.9" y="2909.4" width="84.4" height="21.8" fill="#FF7842" stroke="#000" stroke-width="2.1"/>
<rect x="1241.3" y="2909.4" width="84.4" height="21.8" fill="#FF521A" stroke="#000" stroke-width="2.1"/>
<rect x="1325.8" y="2909.4" width="84.4" height="21.8" fill="#E13300" stroke="#000" stroke-width="2.1"/>
<rect x="1410.2" y="2909.4" width="84.4" height="21.8" fill="#BA1F00" stroke="#000" stroke-width="2.1"/>
<rect x="1494.6" y="2909.4" width="84.4" height="21.8" fill="#8B0000" stroke="#000" stroke-width="2.1"/>
<text transform="translate(312.7 2969) scale(1 1.09)" class="cl" text-anchor="middle">-50</text>
<text transform="translate(397.1 2969) scale(1 1.09)" class="cl" text-anchor="middle">-40</text>
<text transform="translate(481.6 2969) scale(1 1.09)" class="cl" text-anchor="middle">-30</text>
<text transform="translate(566 2969) scale(1 1.09)" class="cl" text-anchor="middle">-20</text>
<text transform="translate(650.4 2969) scale(1 1.09)" class="cl" text-anchor="middle">-15</text>
<text transform="translate(734.8 2969) scale(1 1.09)" class="cl" text-anchor="middle">-10</text>
<text transform="translate(819.2 2969) scale(1 1.09)" class="cl" text-anchor="middle">-5</text>
<text transform="translate(903.7 2969) scale(1 1.09)" class="cl" text-anchor="middle">0</text>
<text transform="translate(988.1 2969) scale(1 1.09)" class="cl" text-anchor="middle">5</text>
<text transform="translate(1072.5 2969) scale(1 1.09)" class="cl" text-anchor="middle">10</text>
<text transform="translate(1156.9 2969) scale(1 1.09)" class="cl" text-anchor="middle">15</text>
<text transform="translate(1241.3 2969) scale(1 1.09)" class="cl" text-anchor="middle">20</text>
<text transform="translate(1325.8 2969) scale(1 1.09)" class="cl" text-anchor="middle">30</text>
<text transform="translate(1410.2 2969) scale(1 1.09)" class="cl" text-anchor="middle">40</text>
<text transform="translate(1494.6 2969) scale(1 1.09)" class="cl" text-anchor="middle">50</text>
</g>
</svg></body></html>
